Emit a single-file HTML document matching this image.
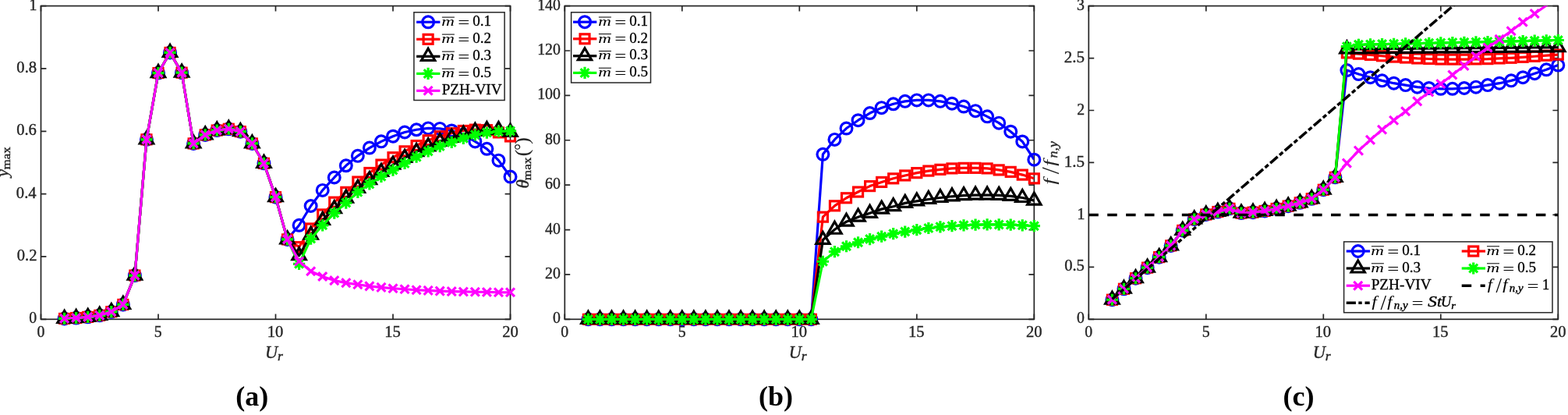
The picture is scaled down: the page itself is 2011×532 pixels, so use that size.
<!DOCTYPE html>
<html lang="en">
<head>
<meta charset="utf-8">
<title>Figure: y max, theta max and frequency ratio versus U r</title>
<style>
html,body{margin:0;padding:0;background:#fff;}
body{width:2011px;height:532px;overflow:hidden;font-family:"Liberation Serif",serif;}
svg{display:block;}
</style>
</head>
<body>
<svg width="2011" height="532" viewBox="0 0 2011 532">
<rect width="2011" height="532" fill="#fff"/>
<g id="panel0">
<clipPath id="clip0"><rect x="52.5" y="7.6" width="602.0" height="401.7"/></clipPath>
<rect x="52.5" y="7.6" width="602.0" height="401.7" fill="#fff" stroke="#262626" stroke-width="1.7"/>
<path d="M52.50 409.3v-6.9M52.50 7.6v6.9M203.00 409.3v-6.9M203.00 7.6v6.9M353.50 409.3v-6.9M353.50 7.6v6.9M504.00 409.3v-6.9M504.00 7.6v6.9M654.50 409.3v-6.9M654.50 7.6v6.9M52.5 409.30h6.9M654.5 409.30h-6.9M52.5 328.96h6.9M654.5 328.96h-6.9M52.5 248.62h6.9M654.5 248.62h-6.9M52.5 168.28h6.9M654.5 168.28h-6.9M52.5 87.94h6.9M654.5 87.94h-6.9M52.5 7.60h6.9M654.5 7.60h-6.9" fill="none" stroke="#262626" stroke-width="1.7"/>
<g font-family='"Liberation Serif", serif'>
<text transform="translate(47.56 432.40) scale(0.96 1)" font-size="20.6" fill="#262626" stroke="#262626" stroke-width="0.4">0</text>
<text transform="translate(197.87 432.40) scale(0.96 1)" font-size="20.6" fill="#262626" stroke="#262626" stroke-width="0.4">5</text>
<text x="342.69" y="432.40" font-size="20.6" fill="#262626" stroke="#262626" stroke-width="0.4">10</text>
<text x="493.20" y="432.40" font-size="20.6" fill="#262626" stroke="#262626" stroke-width="0.4">15</text>
<text x="644.14" y="432.40" font-size="20.6" fill="#262626" stroke="#262626" stroke-width="0.4">20</text>
<text transform="translate(37.17 414.40) scale(0.96 1)" font-size="20.6" fill="#262626" stroke="#262626" stroke-width="0.4">0</text>
<text x="21.69" y="334.06" font-size="20.6" fill="#262626" stroke="#262626" stroke-width="0.4">0.2</text>
<text x="20.87" y="253.72" font-size="20.6" fill="#262626" stroke="#262626" stroke-width="0.4">0.4</text>
<text x="21.16" y="173.38" font-size="20.6" fill="#262626" stroke="#262626" stroke-width="0.4">0.6</text>
<text x="21.33" y="93.04" font-size="20.6" fill="#262626" stroke="#262626" stroke-width="0.4">0.8</text>
<text transform="translate(37.60 12.70) scale(0.96 1)" font-size="20.6" fill="#262626" stroke="#262626" stroke-width="0.4">1</text>
<text transform="translate(340.05 459.00) scale(0.93 1)" font-size="24.0" fill="#262626" font-style="italic" stroke="#262626" stroke-width="0.4">U</text>
<text transform="translate(355.89 462.40) scale(1.05 1)" font-size="16.8" fill="#262626" font-style="italic" stroke="#262626" stroke-width="0.4">r</text>
</g>
<polyline points="82.60,408.42 97.65,407.53 112.70,406.37 127.75,404.32 142.80,399.66 157.85,390.42 172.90,353.06 187.95,178.84 203.00,93.56 218.05,67.45 233.10,93.16 248.15,183.95 263.20,172.90 278.25,167.07 293.30,165.27 308.35,168.68 323.40,183.95 338.45,209.33 353.50,252.64 368.55,306.91 383.60,288.79 398.65,264.01 413.70,243.88 428.75,227.49 443.80,212.27 458.85,199.85 473.90,189.57 488.95,181.34 504.00,174.71 519.05,169.49 534.10,166.27 549.15,164.42 564.20,164.91 579.25,167.48 594.30,172.50 609.35,181.38 624.40,190.78 639.45,205.64 654.50,226.53" fill="none" stroke="#0000ff" stroke-width="3.2" stroke-linejoin="round" clip-path="url(#clip0)"/>
<circle cx="82.60" cy="408.42" r="7.4" fill="none" stroke="#0000ff" stroke-width="3.2"/>
<circle cx="97.65" cy="407.53" r="7.4" fill="none" stroke="#0000ff" stroke-width="3.2"/>
<circle cx="112.70" cy="406.37" r="7.4" fill="none" stroke="#0000ff" stroke-width="3.2"/>
<circle cx="127.75" cy="404.32" r="7.4" fill="none" stroke="#0000ff" stroke-width="3.2"/>
<circle cx="142.80" cy="399.66" r="7.4" fill="none" stroke="#0000ff" stroke-width="3.2"/>
<circle cx="157.85" cy="390.42" r="7.4" fill="none" stroke="#0000ff" stroke-width="3.2"/>
<circle cx="172.90" cy="353.06" r="7.4" fill="none" stroke="#0000ff" stroke-width="3.2"/>
<circle cx="187.95" cy="178.84" r="7.4" fill="none" stroke="#0000ff" stroke-width="3.2"/>
<circle cx="203.00" cy="93.56" r="7.4" fill="none" stroke="#0000ff" stroke-width="3.2"/>
<circle cx="218.05" cy="67.45" r="7.4" fill="none" stroke="#0000ff" stroke-width="3.2"/>
<circle cx="233.10" cy="93.16" r="7.4" fill="none" stroke="#0000ff" stroke-width="3.2"/>
<circle cx="248.15" cy="183.95" r="7.4" fill="none" stroke="#0000ff" stroke-width="3.2"/>
<circle cx="263.20" cy="172.90" r="7.4" fill="none" stroke="#0000ff" stroke-width="3.2"/>
<circle cx="278.25" cy="167.07" r="7.4" fill="none" stroke="#0000ff" stroke-width="3.2"/>
<circle cx="293.30" cy="165.27" r="7.4" fill="none" stroke="#0000ff" stroke-width="3.2"/>
<circle cx="308.35" cy="168.68" r="7.4" fill="none" stroke="#0000ff" stroke-width="3.2"/>
<circle cx="323.40" cy="183.95" r="7.4" fill="none" stroke="#0000ff" stroke-width="3.2"/>
<circle cx="338.45" cy="209.33" r="7.4" fill="none" stroke="#0000ff" stroke-width="3.2"/>
<circle cx="353.50" cy="252.64" r="7.4" fill="none" stroke="#0000ff" stroke-width="3.2"/>
<circle cx="368.55" cy="306.91" r="7.4" fill="none" stroke="#0000ff" stroke-width="3.2"/>
<circle cx="383.60" cy="288.79" r="7.4" fill="none" stroke="#0000ff" stroke-width="3.2"/>
<circle cx="398.65" cy="264.01" r="7.4" fill="none" stroke="#0000ff" stroke-width="3.2"/>
<circle cx="413.70" cy="243.88" r="7.4" fill="none" stroke="#0000ff" stroke-width="3.2"/>
<circle cx="428.75" cy="227.49" r="7.4" fill="none" stroke="#0000ff" stroke-width="3.2"/>
<circle cx="443.80" cy="212.27" r="7.4" fill="none" stroke="#0000ff" stroke-width="3.2"/>
<circle cx="458.85" cy="199.85" r="7.4" fill="none" stroke="#0000ff" stroke-width="3.2"/>
<circle cx="473.90" cy="189.57" r="7.4" fill="none" stroke="#0000ff" stroke-width="3.2"/>
<circle cx="488.95" cy="181.34" r="7.4" fill="none" stroke="#0000ff" stroke-width="3.2"/>
<circle cx="504.00" cy="174.71" r="7.4" fill="none" stroke="#0000ff" stroke-width="3.2"/>
<circle cx="519.05" cy="169.49" r="7.4" fill="none" stroke="#0000ff" stroke-width="3.2"/>
<circle cx="534.10" cy="166.27" r="7.4" fill="none" stroke="#0000ff" stroke-width="3.2"/>
<circle cx="549.15" cy="164.42" r="7.4" fill="none" stroke="#0000ff" stroke-width="3.2"/>
<circle cx="564.20" cy="164.91" r="7.4" fill="none" stroke="#0000ff" stroke-width="3.2"/>
<circle cx="579.25" cy="167.48" r="7.4" fill="none" stroke="#0000ff" stroke-width="3.2"/>
<circle cx="594.30" cy="172.50" r="7.4" fill="none" stroke="#0000ff" stroke-width="3.2"/>
<circle cx="609.35" cy="181.38" r="7.4" fill="none" stroke="#0000ff" stroke-width="3.2"/>
<circle cx="624.40" cy="190.78" r="7.4" fill="none" stroke="#0000ff" stroke-width="3.2"/>
<circle cx="639.45" cy="205.64" r="7.4" fill="none" stroke="#0000ff" stroke-width="3.2"/>
<circle cx="654.50" cy="226.53" r="7.4" fill="none" stroke="#0000ff" stroke-width="3.2"/>
<polyline points="82.60,408.42 97.65,407.53 112.70,406.37 127.75,404.32 142.80,399.66 157.85,390.42 172.90,353.06 187.95,178.84 203.00,93.56 218.05,67.45 233.10,93.16 248.15,183.95 263.20,172.90 278.25,167.07 293.30,165.27 308.35,168.68 323.40,183.95 338.45,209.33 353.50,252.64 368.55,306.91 383.60,316.63 398.65,292.97 413.70,274.93 428.75,259.14 443.80,246.33 458.85,233.03 473.90,221.51 488.95,211.10 504.00,201.74 519.05,193.87 534.10,186.56 549.15,179.77 564.20,174.71 579.25,170.69 594.30,167.48 609.35,166.15 624.40,166.67 639.45,169.89 654.50,174.95" fill="none" stroke="#ff0000" stroke-width="3.2" stroke-linejoin="round" clip-path="url(#clip0)"/>
<rect x="76.60" y="402.42" width="12.0" height="12.0" fill="none" stroke="#ff0000" stroke-width="3.2"/>
<rect x="91.65" y="401.53" width="12.0" height="12.0" fill="none" stroke="#ff0000" stroke-width="3.2"/>
<rect x="106.70" y="400.37" width="12.0" height="12.0" fill="none" stroke="#ff0000" stroke-width="3.2"/>
<rect x="121.75" y="398.32" width="12.0" height="12.0" fill="none" stroke="#ff0000" stroke-width="3.2"/>
<rect x="136.80" y="393.66" width="12.0" height="12.0" fill="none" stroke="#ff0000" stroke-width="3.2"/>
<rect x="151.85" y="384.42" width="12.0" height="12.0" fill="none" stroke="#ff0000" stroke-width="3.2"/>
<rect x="166.90" y="347.06" width="12.0" height="12.0" fill="none" stroke="#ff0000" stroke-width="3.2"/>
<rect x="181.95" y="172.84" width="12.0" height="12.0" fill="none" stroke="#ff0000" stroke-width="3.2"/>
<rect x="197.00" y="87.56" width="12.0" height="12.0" fill="none" stroke="#ff0000" stroke-width="3.2"/>
<rect x="212.05" y="61.45" width="12.0" height="12.0" fill="none" stroke="#ff0000" stroke-width="3.2"/>
<rect x="227.10" y="87.16" width="12.0" height="12.0" fill="none" stroke="#ff0000" stroke-width="3.2"/>
<rect x="242.15" y="177.95" width="12.0" height="12.0" fill="none" stroke="#ff0000" stroke-width="3.2"/>
<rect x="257.20" y="166.90" width="12.0" height="12.0" fill="none" stroke="#ff0000" stroke-width="3.2"/>
<rect x="272.25" y="161.07" width="12.0" height="12.0" fill="none" stroke="#ff0000" stroke-width="3.2"/>
<rect x="287.30" y="159.27" width="12.0" height="12.0" fill="none" stroke="#ff0000" stroke-width="3.2"/>
<rect x="302.35" y="162.68" width="12.0" height="12.0" fill="none" stroke="#ff0000" stroke-width="3.2"/>
<rect x="317.40" y="177.95" width="12.0" height="12.0" fill="none" stroke="#ff0000" stroke-width="3.2"/>
<rect x="332.45" y="203.33" width="12.0" height="12.0" fill="none" stroke="#ff0000" stroke-width="3.2"/>
<rect x="347.50" y="246.64" width="12.0" height="12.0" fill="none" stroke="#ff0000" stroke-width="3.2"/>
<rect x="362.55" y="300.91" width="12.0" height="12.0" fill="none" stroke="#ff0000" stroke-width="3.2"/>
<rect x="377.60" y="310.63" width="12.0" height="12.0" fill="none" stroke="#ff0000" stroke-width="3.2"/>
<rect x="392.65" y="286.97" width="12.0" height="12.0" fill="none" stroke="#ff0000" stroke-width="3.2"/>
<rect x="407.70" y="268.93" width="12.0" height="12.0" fill="none" stroke="#ff0000" stroke-width="3.2"/>
<rect x="422.75" y="253.14" width="12.0" height="12.0" fill="none" stroke="#ff0000" stroke-width="3.2"/>
<rect x="437.80" y="240.33" width="12.0" height="12.0" fill="none" stroke="#ff0000" stroke-width="3.2"/>
<rect x="452.85" y="227.03" width="12.0" height="12.0" fill="none" stroke="#ff0000" stroke-width="3.2"/>
<rect x="467.90" y="215.51" width="12.0" height="12.0" fill="none" stroke="#ff0000" stroke-width="3.2"/>
<rect x="482.95" y="205.10" width="12.0" height="12.0" fill="none" stroke="#ff0000" stroke-width="3.2"/>
<rect x="498.00" y="195.74" width="12.0" height="12.0" fill="none" stroke="#ff0000" stroke-width="3.2"/>
<rect x="513.05" y="187.87" width="12.0" height="12.0" fill="none" stroke="#ff0000" stroke-width="3.2"/>
<rect x="528.10" y="180.56" width="12.0" height="12.0" fill="none" stroke="#ff0000" stroke-width="3.2"/>
<rect x="543.15" y="173.77" width="12.0" height="12.0" fill="none" stroke="#ff0000" stroke-width="3.2"/>
<rect x="558.20" y="168.71" width="12.0" height="12.0" fill="none" stroke="#ff0000" stroke-width="3.2"/>
<rect x="573.25" y="164.69" width="12.0" height="12.0" fill="none" stroke="#ff0000" stroke-width="3.2"/>
<rect x="588.30" y="161.48" width="12.0" height="12.0" fill="none" stroke="#ff0000" stroke-width="3.2"/>
<rect x="603.35" y="160.15" width="12.0" height="12.0" fill="none" stroke="#ff0000" stroke-width="3.2"/>
<rect x="618.40" y="160.67" width="12.0" height="12.0" fill="none" stroke="#ff0000" stroke-width="3.2"/>
<rect x="633.45" y="163.89" width="12.0" height="12.0" fill="none" stroke="#ff0000" stroke-width="3.2"/>
<rect x="648.50" y="168.95" width="12.0" height="12.0" fill="none" stroke="#ff0000" stroke-width="3.2"/>
<polyline points="82.60,408.42 97.65,407.53 112.70,406.37 127.75,404.32 142.80,399.66 157.85,390.42 172.90,353.06 187.95,178.84 203.00,93.56 218.05,67.45 233.10,93.16 248.15,183.95 263.20,172.90 278.25,167.07 293.30,165.27 308.35,168.68 323.40,183.95 338.45,209.33 353.50,252.64 368.55,306.91 383.60,327.75 398.65,301.24 413.70,282.36 428.75,267.70 443.80,254.04 458.85,241.39 473.90,230.66 488.95,220.50 504.00,211.26 519.05,202.42 534.10,194.55 549.15,187.80 564.20,181.34 579.25,176.31 594.30,172.10 609.35,168.28 624.40,166.51 639.45,166.51 654.50,169.32" fill="none" stroke="#000000" stroke-width="3.2" stroke-linejoin="round" clip-path="url(#clip0)"/>
<path d="M82.60 398.42L91.26 413.42L73.94 413.42Z" fill="none" stroke="#000000" stroke-width="3.2" stroke-linejoin="miter"/>
<path d="M97.65 397.53L106.31 412.53L88.99 412.53Z" fill="none" stroke="#000000" stroke-width="3.2" stroke-linejoin="miter"/>
<path d="M112.70 396.37L121.36 411.37L104.04 411.37Z" fill="none" stroke="#000000" stroke-width="3.2" stroke-linejoin="miter"/>
<path d="M127.75 394.32L136.41 409.32L119.09 409.32Z" fill="none" stroke="#000000" stroke-width="3.2" stroke-linejoin="miter"/>
<path d="M142.80 389.66L151.46 404.66L134.14 404.66Z" fill="none" stroke="#000000" stroke-width="3.2" stroke-linejoin="miter"/>
<path d="M157.85 380.42L166.51 395.42L149.19 395.42Z" fill="none" stroke="#000000" stroke-width="3.2" stroke-linejoin="miter"/>
<path d="M172.90 343.06L181.56 358.06L164.24 358.06Z" fill="none" stroke="#000000" stroke-width="3.2" stroke-linejoin="miter"/>
<path d="M187.95 168.84L196.61 183.84L179.29 183.84Z" fill="none" stroke="#000000" stroke-width="3.2" stroke-linejoin="miter"/>
<path d="M203.00 83.56L211.66 98.56L194.34 98.56Z" fill="none" stroke="#000000" stroke-width="3.2" stroke-linejoin="miter"/>
<path d="M218.05 57.45L226.71 72.45L209.39 72.45Z" fill="none" stroke="#000000" stroke-width="3.2" stroke-linejoin="miter"/>
<path d="M233.10 83.16L241.76 98.16L224.44 98.16Z" fill="none" stroke="#000000" stroke-width="3.2" stroke-linejoin="miter"/>
<path d="M248.15 173.95L256.81 188.95L239.49 188.95Z" fill="none" stroke="#000000" stroke-width="3.2" stroke-linejoin="miter"/>
<path d="M263.20 162.90L271.86 177.90L254.54 177.90Z" fill="none" stroke="#000000" stroke-width="3.2" stroke-linejoin="miter"/>
<path d="M278.25 157.07L286.91 172.07L269.59 172.07Z" fill="none" stroke="#000000" stroke-width="3.2" stroke-linejoin="miter"/>
<path d="M293.30 155.27L301.96 170.27L284.64 170.27Z" fill="none" stroke="#000000" stroke-width="3.2" stroke-linejoin="miter"/>
<path d="M308.35 158.68L317.01 173.68L299.69 173.68Z" fill="none" stroke="#000000" stroke-width="3.2" stroke-linejoin="miter"/>
<path d="M323.40 173.95L332.06 188.95L314.74 188.95Z" fill="none" stroke="#000000" stroke-width="3.2" stroke-linejoin="miter"/>
<path d="M338.45 199.33L347.11 214.33L329.79 214.33Z" fill="none" stroke="#000000" stroke-width="3.2" stroke-linejoin="miter"/>
<path d="M353.50 242.64L362.16 257.64L344.84 257.64Z" fill="none" stroke="#000000" stroke-width="3.2" stroke-linejoin="miter"/>
<path d="M368.55 296.91L377.21 311.91L359.89 311.91Z" fill="none" stroke="#000000" stroke-width="3.2" stroke-linejoin="miter"/>
<path d="M383.60 317.75L392.26 332.75L374.94 332.75Z" fill="none" stroke="#000000" stroke-width="3.2" stroke-linejoin="miter"/>
<path d="M398.65 291.24L407.31 306.24L389.99 306.24Z" fill="none" stroke="#000000" stroke-width="3.2" stroke-linejoin="miter"/>
<path d="M413.70 272.36L422.36 287.36L405.04 287.36Z" fill="none" stroke="#000000" stroke-width="3.2" stroke-linejoin="miter"/>
<path d="M428.75 257.70L437.41 272.70L420.09 272.70Z" fill="none" stroke="#000000" stroke-width="3.2" stroke-linejoin="miter"/>
<path d="M443.80 244.04L452.46 259.04L435.14 259.04Z" fill="none" stroke="#000000" stroke-width="3.2" stroke-linejoin="miter"/>
<path d="M458.85 231.39L467.51 246.39L450.19 246.39Z" fill="none" stroke="#000000" stroke-width="3.2" stroke-linejoin="miter"/>
<path d="M473.90 220.66L482.56 235.66L465.24 235.66Z" fill="none" stroke="#000000" stroke-width="3.2" stroke-linejoin="miter"/>
<path d="M488.95 210.50L497.61 225.50L480.29 225.50Z" fill="none" stroke="#000000" stroke-width="3.2" stroke-linejoin="miter"/>
<path d="M504.00 201.26L512.66 216.26L495.34 216.26Z" fill="none" stroke="#000000" stroke-width="3.2" stroke-linejoin="miter"/>
<path d="M519.05 192.42L527.71 207.42L510.39 207.42Z" fill="none" stroke="#000000" stroke-width="3.2" stroke-linejoin="miter"/>
<path d="M534.10 184.55L542.76 199.55L525.44 199.55Z" fill="none" stroke="#000000" stroke-width="3.2" stroke-linejoin="miter"/>
<path d="M549.15 177.80L557.81 192.80L540.49 192.80Z" fill="none" stroke="#000000" stroke-width="3.2" stroke-linejoin="miter"/>
<path d="M564.20 171.34L572.86 186.34L555.54 186.34Z" fill="none" stroke="#000000" stroke-width="3.2" stroke-linejoin="miter"/>
<path d="M579.25 166.31L587.91 181.31L570.59 181.31Z" fill="none" stroke="#000000" stroke-width="3.2" stroke-linejoin="miter"/>
<path d="M594.30 162.10L602.96 177.10L585.64 177.10Z" fill="none" stroke="#000000" stroke-width="3.2" stroke-linejoin="miter"/>
<path d="M609.35 158.28L618.01 173.28L600.69 173.28Z" fill="none" stroke="#000000" stroke-width="3.2" stroke-linejoin="miter"/>
<path d="M624.40 156.51L633.06 171.51L615.74 171.51Z" fill="none" stroke="#000000" stroke-width="3.2" stroke-linejoin="miter"/>
<path d="M639.45 156.51L648.11 171.51L630.79 171.51Z" fill="none" stroke="#000000" stroke-width="3.2" stroke-linejoin="miter"/>
<path d="M654.50 159.32L663.16 174.32L645.84 174.32Z" fill="none" stroke="#000000" stroke-width="3.2" stroke-linejoin="miter"/>
<polyline points="82.60,408.42 97.65,407.53 112.70,406.37 127.75,404.32 142.80,399.66 157.85,390.42 172.90,353.06 187.95,178.84 203.00,93.56 218.05,67.45 233.10,93.16 248.15,183.95 263.20,172.90 278.25,167.07 293.30,165.27 308.35,168.68 323.40,183.95 338.45,209.33 353.50,252.64 368.55,306.91 383.60,338.36 398.65,306.06 413.70,288.79 428.75,273.12 443.80,260.07 458.85,246.29 473.90,235.97 488.95,226.37 504.00,218.09 519.05,209.45 534.10,201.22 549.15,193.99 564.20,187.56 579.25,182.42 594.30,177.32 609.35,172.86 624.40,170.09 639.45,168.40 654.50,167.88" fill="none" stroke="#00ff00" stroke-width="3.2" stroke-linejoin="round" clip-path="url(#clip0)"/>
<path d="M75.00 408.42H90.20M82.60 400.82V416.02M77.23 403.04L87.97 413.79M77.23 413.79L87.97 403.04" fill="none" stroke="#00ff00" stroke-width="3.2"/>
<path d="M90.05 407.53H105.25M97.65 399.93V415.13M92.28 402.16L103.02 412.91M92.28 412.91L103.02 402.16" fill="none" stroke="#00ff00" stroke-width="3.2"/>
<path d="M105.10 406.37H120.30M112.70 398.77V413.97M107.33 400.99L118.07 411.74M107.33 411.74L118.07 400.99" fill="none" stroke="#00ff00" stroke-width="3.2"/>
<path d="M120.15 404.32H135.35M127.75 396.72V411.92M122.38 398.94L133.12 409.69M122.38 409.69L133.12 398.94" fill="none" stroke="#00ff00" stroke-width="3.2"/>
<path d="M135.20 399.66H150.40M142.80 392.06V407.26M137.43 394.29L148.17 405.03M137.43 405.03L148.17 394.29" fill="none" stroke="#00ff00" stroke-width="3.2"/>
<path d="M150.25 390.42H165.45M157.85 382.82V398.02M152.48 385.05L163.22 395.79M152.48 395.79L163.22 385.05" fill="none" stroke="#00ff00" stroke-width="3.2"/>
<path d="M165.30 353.06H180.50M172.90 345.46V360.66M167.53 347.69L178.27 358.44M167.53 358.44L178.27 347.69" fill="none" stroke="#00ff00" stroke-width="3.2"/>
<path d="M180.35 178.84H195.55M187.95 171.24V186.44M182.58 173.47L193.32 184.22M182.58 184.22L193.32 173.47" fill="none" stroke="#00ff00" stroke-width="3.2"/>
<path d="M195.40 93.56H210.60M203.00 85.96V101.16M197.63 88.19L208.37 98.94M197.63 98.94L208.37 88.19" fill="none" stroke="#00ff00" stroke-width="3.2"/>
<path d="M210.45 67.45H225.65M218.05 59.85V75.05M212.68 62.08L223.42 72.83M212.68 72.83L223.42 62.08" fill="none" stroke="#00ff00" stroke-width="3.2"/>
<path d="M225.50 93.16H240.70M233.10 85.56V100.76M227.73 87.79L238.47 98.54M227.73 98.54L238.47 87.79" fill="none" stroke="#00ff00" stroke-width="3.2"/>
<path d="M240.55 183.95H255.75M248.15 176.35V191.55M242.78 178.57L253.52 189.32M242.78 189.32L253.52 178.57" fill="none" stroke="#00ff00" stroke-width="3.2"/>
<path d="M255.60 172.90H270.80M263.20 165.30V180.50M257.83 167.53L268.57 178.27M257.83 178.27L268.57 167.53" fill="none" stroke="#00ff00" stroke-width="3.2"/>
<path d="M270.65 167.07H285.85M278.25 159.47V174.67M272.88 161.70L283.62 172.45M272.88 172.45L283.62 161.70" fill="none" stroke="#00ff00" stroke-width="3.2"/>
<path d="M285.70 165.27H300.90M293.30 157.67V172.87M287.93 159.89L298.67 170.64M287.93 170.64L298.67 159.89" fill="none" stroke="#00ff00" stroke-width="3.2"/>
<path d="M300.75 168.68H315.95M308.35 161.08V176.28M302.98 163.31L313.72 174.06M302.98 174.06L313.72 163.31" fill="none" stroke="#00ff00" stroke-width="3.2"/>
<path d="M315.80 183.95H331.00M323.40 176.35V191.55M318.03 178.57L328.77 189.32M318.03 189.32L328.77 178.57" fill="none" stroke="#00ff00" stroke-width="3.2"/>
<path d="M330.85 209.33H346.05M338.45 201.73V216.93M333.08 203.96L343.82 214.71M333.08 214.71L343.82 203.96" fill="none" stroke="#00ff00" stroke-width="3.2"/>
<path d="M345.90 252.64H361.10M353.50 245.04V260.24M348.13 247.26L358.87 258.01M348.13 258.01L358.87 247.26" fill="none" stroke="#00ff00" stroke-width="3.2"/>
<path d="M360.95 306.91H376.15M368.55 299.31V314.51M363.18 301.53L373.92 312.28M363.18 312.28L373.92 301.53" fill="none" stroke="#00ff00" stroke-width="3.2"/>
<path d="M376.00 338.36H391.20M383.60 330.76V345.96M378.23 332.99L388.97 343.73M378.23 343.73L388.97 332.99" fill="none" stroke="#00ff00" stroke-width="3.2"/>
<path d="M391.05 306.06H406.25M398.65 298.46V313.66M393.28 300.69L404.02 311.44M393.28 311.44L404.02 300.69" fill="none" stroke="#00ff00" stroke-width="3.2"/>
<path d="M406.10 288.79H421.30M413.70 281.19V296.39M408.33 283.42L419.07 294.16M408.33 294.16L419.07 283.42" fill="none" stroke="#00ff00" stroke-width="3.2"/>
<path d="M421.15 273.12H436.35M428.75 265.52V280.72M423.38 267.75L434.12 278.50M423.38 278.50L434.12 267.75" fill="none" stroke="#00ff00" stroke-width="3.2"/>
<path d="M436.20 260.07H451.40M443.80 252.47V267.67M438.43 254.69L449.17 265.44M438.43 265.44L449.17 254.69" fill="none" stroke="#00ff00" stroke-width="3.2"/>
<path d="M451.25 246.29H466.45M458.85 238.69V253.89M453.48 240.92L464.22 251.66M453.48 251.66L464.22 240.92" fill="none" stroke="#00ff00" stroke-width="3.2"/>
<path d="M466.30 235.97H481.50M473.90 228.37V243.57M468.53 230.59L479.27 241.34M468.53 241.34L479.27 230.59" fill="none" stroke="#00ff00" stroke-width="3.2"/>
<path d="M481.35 226.37H496.55M488.95 218.77V233.97M483.58 220.99L494.32 231.74M483.58 231.74L494.32 220.99" fill="none" stroke="#00ff00" stroke-width="3.2"/>
<path d="M496.40 218.09H511.60M504.00 210.49V225.69M498.63 212.72L509.37 223.46M498.63 223.46L509.37 212.72" fill="none" stroke="#00ff00" stroke-width="3.2"/>
<path d="M511.45 209.45H526.65M519.05 201.85V217.05M513.68 204.08L524.42 214.83M513.68 214.83L524.42 204.08" fill="none" stroke="#00ff00" stroke-width="3.2"/>
<path d="M526.50 201.22H541.70M534.10 193.62V208.82M528.73 195.85L539.47 206.59M528.73 206.59L539.47 195.85" fill="none" stroke="#00ff00" stroke-width="3.2"/>
<path d="M541.55 193.99H556.75M549.15 186.39V201.59M543.78 188.61L554.52 199.36M543.78 199.36L554.52 188.61" fill="none" stroke="#00ff00" stroke-width="3.2"/>
<path d="M556.60 187.56H571.80M564.20 179.96V195.16M558.83 182.19L569.57 192.94M558.83 192.94L569.57 182.19" fill="none" stroke="#00ff00" stroke-width="3.2"/>
<path d="M571.65 182.42H586.85M579.25 174.82V190.02M573.88 177.05L584.62 187.79M573.88 187.79L584.62 177.05" fill="none" stroke="#00ff00" stroke-width="3.2"/>
<path d="M586.70 177.32H601.90M594.30 169.72V184.92M588.93 171.94L599.67 182.69M588.93 182.69L599.67 171.94" fill="none" stroke="#00ff00" stroke-width="3.2"/>
<path d="M601.75 172.86H616.95M609.35 165.26V180.46M603.98 167.49L614.72 178.23M603.98 178.23L614.72 167.49" fill="none" stroke="#00ff00" stroke-width="3.2"/>
<path d="M616.80 170.09H632.00M624.40 162.49V177.69M619.03 164.71L629.77 175.46M619.03 175.46L629.77 164.71" fill="none" stroke="#00ff00" stroke-width="3.2"/>
<path d="M631.85 168.40H647.05M639.45 160.80V176.00M634.08 163.03L644.82 173.77M634.08 173.77L644.82 163.03" fill="none" stroke="#00ff00" stroke-width="3.2"/>
<path d="M646.90 167.88H662.10M654.50 160.28V175.48M649.13 162.50L659.87 173.25M649.13 173.25L659.87 162.50" fill="none" stroke="#00ff00" stroke-width="3.2"/>
<polyline points="82.60,408.42 97.65,407.53 112.70,406.37 127.75,404.32 142.80,399.66 157.85,390.42 172.90,353.06 187.95,178.84 203.00,93.56 218.05,67.45 233.10,93.16 248.15,183.95 263.20,172.90 278.25,167.07 293.30,165.27 308.35,168.68 323.40,183.95 338.45,209.33 353.50,252.64 368.55,306.91 383.60,334.99 398.65,347.72 413.70,354.47 428.75,359.57 443.80,362.62 458.85,364.71 473.90,366.84 488.95,368.33 504.00,369.73 519.05,370.74 534.10,371.74 549.15,372.42 564.20,373.15 579.25,373.63 594.30,373.95 609.35,374.27 624.40,374.47 639.45,374.75 654.50,374.79" fill="none" stroke="#ff00ff" stroke-width="3.2" stroke-linejoin="round" clip-path="url(#clip0)"/>
<path d="M77.16 402.97L88.04 413.86M77.16 413.86L88.04 402.97" fill="none" stroke="#ff00ff" stroke-width="3.2"/>
<path d="M92.21 402.09L103.09 412.98M92.21 412.98L103.09 402.09" fill="none" stroke="#ff00ff" stroke-width="3.2"/>
<path d="M107.26 400.92L118.14 411.81M107.26 411.81L118.14 400.92" fill="none" stroke="#ff00ff" stroke-width="3.2"/>
<path d="M122.31 398.87L133.19 409.76M122.31 409.76L133.19 398.87" fill="none" stroke="#ff00ff" stroke-width="3.2"/>
<path d="M137.36 394.21L148.24 405.10M137.36 405.10L148.24 394.21" fill="none" stroke="#ff00ff" stroke-width="3.2"/>
<path d="M152.41 384.98L163.29 395.86M152.41 395.86L163.29 384.98" fill="none" stroke="#ff00ff" stroke-width="3.2"/>
<path d="M167.46 347.62L178.34 358.51M167.46 358.51L178.34 347.62" fill="none" stroke="#ff00ff" stroke-width="3.2"/>
<path d="M182.51 173.40L193.39 184.29M182.51 184.29L193.39 173.40" fill="none" stroke="#ff00ff" stroke-width="3.2"/>
<path d="M197.56 88.12L208.44 99.01M197.56 99.01L208.44 88.12" fill="none" stroke="#ff00ff" stroke-width="3.2"/>
<path d="M212.61 62.01L223.49 72.90M212.61 72.90L223.49 62.01" fill="none" stroke="#ff00ff" stroke-width="3.2"/>
<path d="M227.66 87.72L238.54 98.61M227.66 98.61L238.54 87.72" fill="none" stroke="#ff00ff" stroke-width="3.2"/>
<path d="M242.71 178.50L253.59 189.39M242.71 189.39L253.59 178.50" fill="none" stroke="#ff00ff" stroke-width="3.2"/>
<path d="M257.76 167.45L268.64 178.34M257.76 178.34L268.64 167.45" fill="none" stroke="#ff00ff" stroke-width="3.2"/>
<path d="M272.81 161.63L283.69 172.52M272.81 172.52L283.69 161.63" fill="none" stroke="#ff00ff" stroke-width="3.2"/>
<path d="M287.86 159.82L298.74 170.71M287.86 170.71L298.74 159.82" fill="none" stroke="#ff00ff" stroke-width="3.2"/>
<path d="M302.91 163.24L313.79 174.13M302.91 174.13L313.79 163.24" fill="none" stroke="#ff00ff" stroke-width="3.2"/>
<path d="M317.96 178.50L328.84 189.39M317.96 189.39L328.84 178.50" fill="none" stroke="#ff00ff" stroke-width="3.2"/>
<path d="M333.01 203.89L343.89 214.78M333.01 214.78L343.89 203.89" fill="none" stroke="#ff00ff" stroke-width="3.2"/>
<path d="M348.06 247.19L358.94 258.08M348.06 258.08L358.94 247.19" fill="none" stroke="#ff00ff" stroke-width="3.2"/>
<path d="M363.11 301.46L373.99 312.35M363.11 312.35L373.99 301.46" fill="none" stroke="#ff00ff" stroke-width="3.2"/>
<path d="M378.16 329.54L389.04 340.43M378.16 340.43L389.04 329.54" fill="none" stroke="#ff00ff" stroke-width="3.2"/>
<path d="M393.21 342.27L404.09 353.16M393.21 353.16L404.09 342.27" fill="none" stroke="#ff00ff" stroke-width="3.2"/>
<path d="M408.26 349.02L419.14 359.91M408.26 359.91L419.14 349.02" fill="none" stroke="#ff00ff" stroke-width="3.2"/>
<path d="M423.31 354.12L434.19 365.01M423.31 365.01L434.19 354.12" fill="none" stroke="#ff00ff" stroke-width="3.2"/>
<path d="M438.36 357.18L449.24 368.07M438.36 368.07L449.24 357.18" fill="none" stroke="#ff00ff" stroke-width="3.2"/>
<path d="M453.41 359.27L464.29 370.16M453.41 370.16L464.29 359.27" fill="none" stroke="#ff00ff" stroke-width="3.2"/>
<path d="M468.46 361.40L479.34 372.29M468.46 372.29L479.34 361.40" fill="none" stroke="#ff00ff" stroke-width="3.2"/>
<path d="M483.51 362.88L494.39 373.77M483.51 373.77L494.39 362.88" fill="none" stroke="#ff00ff" stroke-width="3.2"/>
<path d="M498.56 364.29L509.44 375.18M498.56 375.18L509.44 364.29" fill="none" stroke="#ff00ff" stroke-width="3.2"/>
<path d="M513.61 365.29L524.49 376.18M513.61 376.18L524.49 365.29" fill="none" stroke="#ff00ff" stroke-width="3.2"/>
<path d="M528.66 366.30L539.54 377.19M528.66 377.19L539.54 366.30" fill="none" stroke="#ff00ff" stroke-width="3.2"/>
<path d="M543.71 366.98L554.59 377.87M543.71 377.87L554.59 366.98" fill="none" stroke="#ff00ff" stroke-width="3.2"/>
<path d="M558.76 367.70L569.64 378.59M558.76 378.59L569.64 367.70" fill="none" stroke="#ff00ff" stroke-width="3.2"/>
<path d="M573.81 368.18L584.69 379.07M573.81 379.07L584.69 368.18" fill="none" stroke="#ff00ff" stroke-width="3.2"/>
<path d="M588.86 368.51L599.74 379.40M588.86 379.40L599.74 368.51" fill="none" stroke="#ff00ff" stroke-width="3.2"/>
<path d="M603.91 368.83L614.79 379.72M603.91 379.72L614.79 368.83" fill="none" stroke="#ff00ff" stroke-width="3.2"/>
<path d="M618.96 369.03L629.84 379.92M618.96 379.92L629.84 369.03" fill="none" stroke="#ff00ff" stroke-width="3.2"/>
<path d="M634.01 369.31L644.89 380.20M634.01 380.20L644.89 369.31" fill="none" stroke="#ff00ff" stroke-width="3.2"/>
<path d="M649.06 369.35L659.94 380.24M649.06 380.24L659.94 369.35" fill="none" stroke="#ff00ff" stroke-width="3.2"/>
</g>
<rect x="530.9" y="15.8" width="116.2" height="112.7" fill="#fff" stroke="#262626" stroke-width="1.5"/>
<path d="M534.10 28.30h30.3" stroke="#0000ff" stroke-width="3.2" fill="none"/><circle cx="549.10" cy="28.30" r="7.4" fill="none" stroke="#0000ff" stroke-width="3.2"/>
<g font-family='"Liberation Serif", serif'><text transform="translate(566.37 33.00) scale(1.31 1)" font-size="17.6" fill="#000" font-style="italic">m</text><text transform="translate(587.27 34.90) scale(1.42 1)" font-size="18.8" fill="#000">=</text><text transform="translate(606.17 33.00) scale(1.06 1)" font-size="18.0" fill="#000" stroke="#000" stroke-width="0.3">0.1</text></g><path d="M566.90 22.10h16" stroke="#000" stroke-width="1" fill="none"/>
<path d="M534.10 50.30h30.3" stroke="#ff0000" stroke-width="3.2" fill="none"/><rect x="543.10" y="44.30" width="12.0" height="12.0" fill="none" stroke="#ff0000" stroke-width="3.2"/>
<g font-family='"Liberation Serif", serif'><text transform="translate(566.37 55.00) scale(1.31 1)" font-size="17.6" fill="#000" font-style="italic">m</text><text transform="translate(587.27 56.90) scale(1.42 1)" font-size="18.8" fill="#000">=</text><text transform="translate(606.17 55.00) scale(1.06 1)" font-size="18.0" fill="#000" stroke="#000" stroke-width="0.3">0.2</text></g><path d="M566.90 44.10h16" stroke="#000" stroke-width="1" fill="none"/>
<path d="M534.10 72.30h30.3" stroke="#000000" stroke-width="3.2" fill="none"/><path d="M549.10 62.30L557.76 77.30L540.44 77.30Z" fill="none" stroke="#000000" stroke-width="3.2" stroke-linejoin="miter"/>
<g font-family='"Liberation Serif", serif'><text transform="translate(566.37 77.00) scale(1.31 1)" font-size="17.6" fill="#000" font-style="italic">m</text><text transform="translate(587.27 78.90) scale(1.42 1)" font-size="18.8" fill="#000">=</text><text transform="translate(606.17 77.00) scale(1.06 1)" font-size="18.0" fill="#000" stroke="#000" stroke-width="0.3">0.3</text></g><path d="M566.90 66.10h16" stroke="#000" stroke-width="1" fill="none"/>
<path d="M534.10 94.40h30.3" stroke="#00ff00" stroke-width="3.2" fill="none"/><path d="M541.50 94.40H556.70M549.10 86.80V102.00M543.73 89.03L554.47 99.77M543.73 99.77L554.47 89.03" fill="none" stroke="#00ff00" stroke-width="3.2"/>
<g font-family='"Liberation Serif", serif'><text transform="translate(566.37 99.10) scale(1.31 1)" font-size="17.6" fill="#000" font-style="italic">m</text><text transform="translate(587.27 101.00) scale(1.42 1)" font-size="18.8" fill="#000">=</text><text transform="translate(606.17 99.10) scale(1.06 1)" font-size="18.0" fill="#000" stroke="#000" stroke-width="0.3">0.5</text></g><path d="M566.90 88.20h16" stroke="#000" stroke-width="1" fill="none"/>
<path d="M534.10 116.30h30.3" stroke="#ff00ff" stroke-width="3.2" fill="none"/><path d="M543.66 110.86L554.54 121.74M543.66 121.74L554.54 110.86" fill="none" stroke="#ff00ff" stroke-width="3.2"/>
<g font-family='"Liberation Serif", serif'><text transform="translate(566.64 121.00) scale(1.02 1)" font-size="18.9" fill="#000" stroke="#000" stroke-width="0.3">PZH-VIV</text></g>
<g id="panel1">
<clipPath id="clip1"><rect x="724.3" y="7.6" width="602.0" height="401.7"/></clipPath>
<rect x="724.3" y="7.6" width="602.0" height="401.7" fill="#fff" stroke="#262626" stroke-width="1.7"/>
<path d="M724.30 409.3v-6.9M724.30 7.6v6.9M874.80 409.3v-6.9M874.80 7.6v6.9M1025.30 409.3v-6.9M1025.30 7.6v6.9M1175.80 409.3v-6.9M1175.80 7.6v6.9M1326.30 409.3v-6.9M1326.30 7.6v6.9M724.3 409.30h6.9M1326.3 409.30h-6.9M724.3 351.91h6.9M1326.3 351.91h-6.9M724.3 294.53h6.9M1326.3 294.53h-6.9M724.3 237.14h6.9M1326.3 237.14h-6.9M724.3 179.76h6.9M1326.3 179.76h-6.9M724.3 122.37h6.9M1326.3 122.37h-6.9M724.3 64.99h6.9M1326.3 64.99h-6.9M724.3 7.60h6.9M1326.3 7.60h-6.9" fill="none" stroke="#262626" stroke-width="1.7"/>
<g font-family='"Liberation Serif", serif'>
<text transform="translate(719.36 432.40) scale(0.96 1)" font-size="20.6" fill="#262626" stroke="#262626" stroke-width="0.4">0</text>
<text transform="translate(869.67 432.40) scale(0.96 1)" font-size="20.6" fill="#262626" stroke="#262626" stroke-width="0.4">5</text>
<text x="1014.49" y="432.40" font-size="20.6" fill="#262626" stroke="#262626" stroke-width="0.4">10</text>
<text x="1165.00" y="432.40" font-size="20.6" fill="#262626" stroke="#262626" stroke-width="0.4">15</text>
<text x="1315.94" y="432.40" font-size="20.6" fill="#262626" stroke="#262626" stroke-width="0.4">20</text>
<text transform="translate(708.97 414.40) scale(0.96 1)" font-size="20.6" fill="#262626" stroke="#262626" stroke-width="0.4">0</text>
<text transform="translate(699.08 357.01) scale(0.96 1)" font-size="20.6" fill="#262626" stroke="#262626" stroke-width="0.4">20</text>
<text transform="translate(699.08 299.63) scale(0.96 1)" font-size="20.6" fill="#262626" stroke="#262626" stroke-width="0.4">40</text>
<text transform="translate(699.08 242.24) scale(0.96 1)" font-size="20.6" fill="#262626" stroke="#262626" stroke-width="0.4">60</text>
<text transform="translate(699.08 184.86) scale(0.96 1)" font-size="20.6" fill="#262626" stroke="#262626" stroke-width="0.4">80</text>
<text transform="translate(689.19 127.47) scale(0.96 1)" font-size="20.6" fill="#262626" stroke="#262626" stroke-width="0.4">100</text>
<text transform="translate(689.19 70.09) scale(0.96 1)" font-size="20.6" fill="#262626" stroke="#262626" stroke-width="0.4">120</text>
<text transform="translate(689.19 12.70) scale(0.96 1)" font-size="20.6" fill="#262626" stroke="#262626" stroke-width="0.4">140</text>
<text transform="translate(1011.85 459.00) scale(0.93 1)" font-size="24.0" fill="#262626" font-style="italic" stroke="#262626" stroke-width="0.4">U</text>
<text transform="translate(1027.69 462.40) scale(1.05 1)" font-size="16.8" fill="#262626" font-style="italic" stroke="#262626" stroke-width="0.4">r</text>
</g>
<polyline points="754.40,409.30 769.45,409.30 784.50,409.30 799.55,409.30 814.60,409.30 829.65,409.30 844.70,409.30 859.75,409.30 874.80,409.30 889.85,409.30 904.90,409.30 919.95,409.30 935.00,409.30 950.05,409.30 965.10,409.30 980.15,409.30 995.20,409.30 1010.25,409.30 1025.30,409.30 1040.35,409.30 1055.40,197.83 1070.45,178.90 1085.50,164.55 1100.55,154.22 1115.60,145.04 1130.65,138.15 1145.70,133.27 1160.75,129.83 1175.80,128.40 1190.85,128.40 1205.90,129.83 1220.95,132.70 1236.00,136.57 1251.05,142.17 1266.10,149.34 1281.15,157.66 1296.20,168.71 1311.25,181.48 1326.30,204.72" fill="none" stroke="#0000ff" stroke-width="3.2" stroke-linejoin="round" clip-path="url(#clip1)"/>
<circle cx="754.40" cy="409.30" r="7.4" fill="none" stroke="#0000ff" stroke-width="3.2"/>
<circle cx="769.45" cy="409.30" r="7.4" fill="none" stroke="#0000ff" stroke-width="3.2"/>
<circle cx="784.50" cy="409.30" r="7.4" fill="none" stroke="#0000ff" stroke-width="3.2"/>
<circle cx="799.55" cy="409.30" r="7.4" fill="none" stroke="#0000ff" stroke-width="3.2"/>
<circle cx="814.60" cy="409.30" r="7.4" fill="none" stroke="#0000ff" stroke-width="3.2"/>
<circle cx="829.65" cy="409.30" r="7.4" fill="none" stroke="#0000ff" stroke-width="3.2"/>
<circle cx="844.70" cy="409.30" r="7.4" fill="none" stroke="#0000ff" stroke-width="3.2"/>
<circle cx="859.75" cy="409.30" r="7.4" fill="none" stroke="#0000ff" stroke-width="3.2"/>
<circle cx="874.80" cy="409.30" r="7.4" fill="none" stroke="#0000ff" stroke-width="3.2"/>
<circle cx="889.85" cy="409.30" r="7.4" fill="none" stroke="#0000ff" stroke-width="3.2"/>
<circle cx="904.90" cy="409.30" r="7.4" fill="none" stroke="#0000ff" stroke-width="3.2"/>
<circle cx="919.95" cy="409.30" r="7.4" fill="none" stroke="#0000ff" stroke-width="3.2"/>
<circle cx="935.00" cy="409.30" r="7.4" fill="none" stroke="#0000ff" stroke-width="3.2"/>
<circle cx="950.05" cy="409.30" r="7.4" fill="none" stroke="#0000ff" stroke-width="3.2"/>
<circle cx="965.10" cy="409.30" r="7.4" fill="none" stroke="#0000ff" stroke-width="3.2"/>
<circle cx="980.15" cy="409.30" r="7.4" fill="none" stroke="#0000ff" stroke-width="3.2"/>
<circle cx="995.20" cy="409.30" r="7.4" fill="none" stroke="#0000ff" stroke-width="3.2"/>
<circle cx="1010.25" cy="409.30" r="7.4" fill="none" stroke="#0000ff" stroke-width="3.2"/>
<circle cx="1025.30" cy="409.30" r="7.4" fill="none" stroke="#0000ff" stroke-width="3.2"/>
<circle cx="1040.35" cy="409.30" r="7.4" fill="none" stroke="#0000ff" stroke-width="3.2"/>
<circle cx="1055.40" cy="197.83" r="7.4" fill="none" stroke="#0000ff" stroke-width="3.2"/>
<circle cx="1070.45" cy="178.90" r="7.4" fill="none" stroke="#0000ff" stroke-width="3.2"/>
<circle cx="1085.50" cy="164.55" r="7.4" fill="none" stroke="#0000ff" stroke-width="3.2"/>
<circle cx="1100.55" cy="154.22" r="7.4" fill="none" stroke="#0000ff" stroke-width="3.2"/>
<circle cx="1115.60" cy="145.04" r="7.4" fill="none" stroke="#0000ff" stroke-width="3.2"/>
<circle cx="1130.65" cy="138.15" r="7.4" fill="none" stroke="#0000ff" stroke-width="3.2"/>
<circle cx="1145.70" cy="133.27" r="7.4" fill="none" stroke="#0000ff" stroke-width="3.2"/>
<circle cx="1160.75" cy="129.83" r="7.4" fill="none" stroke="#0000ff" stroke-width="3.2"/>
<circle cx="1175.80" cy="128.40" r="7.4" fill="none" stroke="#0000ff" stroke-width="3.2"/>
<circle cx="1190.85" cy="128.40" r="7.4" fill="none" stroke="#0000ff" stroke-width="3.2"/>
<circle cx="1205.90" cy="129.83" r="7.4" fill="none" stroke="#0000ff" stroke-width="3.2"/>
<circle cx="1220.95" cy="132.70" r="7.4" fill="none" stroke="#0000ff" stroke-width="3.2"/>
<circle cx="1236.00" cy="136.57" r="7.4" fill="none" stroke="#0000ff" stroke-width="3.2"/>
<circle cx="1251.05" cy="142.17" r="7.4" fill="none" stroke="#0000ff" stroke-width="3.2"/>
<circle cx="1266.10" cy="149.34" r="7.4" fill="none" stroke="#0000ff" stroke-width="3.2"/>
<circle cx="1281.15" cy="157.66" r="7.4" fill="none" stroke="#0000ff" stroke-width="3.2"/>
<circle cx="1296.20" cy="168.71" r="7.4" fill="none" stroke="#0000ff" stroke-width="3.2"/>
<circle cx="1311.25" cy="181.48" r="7.4" fill="none" stroke="#0000ff" stroke-width="3.2"/>
<circle cx="1326.30" cy="204.72" r="7.4" fill="none" stroke="#0000ff" stroke-width="3.2"/>
<polyline points="754.40,409.30 769.45,409.30 784.50,409.30 799.55,409.30 814.60,409.30 829.65,409.30 844.70,409.30 859.75,409.30 874.80,409.30 889.85,409.30 904.90,409.30 919.95,409.30 935.00,409.30 950.05,409.30 965.10,409.30 980.15,409.30 995.20,409.30 1010.25,409.30 1025.30,409.30 1040.35,409.30 1055.40,278.17 1070.45,263.83 1085.50,253.78 1100.55,246.04 1115.60,238.58 1130.65,233.41 1145.70,228.82 1160.75,224.95 1175.80,221.65 1190.85,219.07 1205.90,217.34 1220.95,215.91 1236.00,215.34 1251.05,215.34 1266.10,215.91 1281.15,217.92 1296.20,220.36 1311.25,224.09 1326.30,228.82" fill="none" stroke="#ff0000" stroke-width="3.2" stroke-linejoin="round" clip-path="url(#clip1)"/>
<rect x="748.40" y="403.30" width="12.0" height="12.0" fill="none" stroke="#ff0000" stroke-width="3.2"/>
<rect x="763.45" y="403.30" width="12.0" height="12.0" fill="none" stroke="#ff0000" stroke-width="3.2"/>
<rect x="778.50" y="403.30" width="12.0" height="12.0" fill="none" stroke="#ff0000" stroke-width="3.2"/>
<rect x="793.55" y="403.30" width="12.0" height="12.0" fill="none" stroke="#ff0000" stroke-width="3.2"/>
<rect x="808.60" y="403.30" width="12.0" height="12.0" fill="none" stroke="#ff0000" stroke-width="3.2"/>
<rect x="823.65" y="403.30" width="12.0" height="12.0" fill="none" stroke="#ff0000" stroke-width="3.2"/>
<rect x="838.70" y="403.30" width="12.0" height="12.0" fill="none" stroke="#ff0000" stroke-width="3.2"/>
<rect x="853.75" y="403.30" width="12.0" height="12.0" fill="none" stroke="#ff0000" stroke-width="3.2"/>
<rect x="868.80" y="403.30" width="12.0" height="12.0" fill="none" stroke="#ff0000" stroke-width="3.2"/>
<rect x="883.85" y="403.30" width="12.0" height="12.0" fill="none" stroke="#ff0000" stroke-width="3.2"/>
<rect x="898.90" y="403.30" width="12.0" height="12.0" fill="none" stroke="#ff0000" stroke-width="3.2"/>
<rect x="913.95" y="403.30" width="12.0" height="12.0" fill="none" stroke="#ff0000" stroke-width="3.2"/>
<rect x="929.00" y="403.30" width="12.0" height="12.0" fill="none" stroke="#ff0000" stroke-width="3.2"/>
<rect x="944.05" y="403.30" width="12.0" height="12.0" fill="none" stroke="#ff0000" stroke-width="3.2"/>
<rect x="959.10" y="403.30" width="12.0" height="12.0" fill="none" stroke="#ff0000" stroke-width="3.2"/>
<rect x="974.15" y="403.30" width="12.0" height="12.0" fill="none" stroke="#ff0000" stroke-width="3.2"/>
<rect x="989.20" y="403.30" width="12.0" height="12.0" fill="none" stroke="#ff0000" stroke-width="3.2"/>
<rect x="1004.25" y="403.30" width="12.0" height="12.0" fill="none" stroke="#ff0000" stroke-width="3.2"/>
<rect x="1019.30" y="403.30" width="12.0" height="12.0" fill="none" stroke="#ff0000" stroke-width="3.2"/>
<rect x="1034.35" y="403.30" width="12.0" height="12.0" fill="none" stroke="#ff0000" stroke-width="3.2"/>
<rect x="1049.40" y="272.17" width="12.0" height="12.0" fill="none" stroke="#ff0000" stroke-width="3.2"/>
<rect x="1064.45" y="257.83" width="12.0" height="12.0" fill="none" stroke="#ff0000" stroke-width="3.2"/>
<rect x="1079.50" y="247.78" width="12.0" height="12.0" fill="none" stroke="#ff0000" stroke-width="3.2"/>
<rect x="1094.55" y="240.04" width="12.0" height="12.0" fill="none" stroke="#ff0000" stroke-width="3.2"/>
<rect x="1109.60" y="232.58" width="12.0" height="12.0" fill="none" stroke="#ff0000" stroke-width="3.2"/>
<rect x="1124.65" y="227.41" width="12.0" height="12.0" fill="none" stroke="#ff0000" stroke-width="3.2"/>
<rect x="1139.70" y="222.82" width="12.0" height="12.0" fill="none" stroke="#ff0000" stroke-width="3.2"/>
<rect x="1154.75" y="218.95" width="12.0" height="12.0" fill="none" stroke="#ff0000" stroke-width="3.2"/>
<rect x="1169.80" y="215.65" width="12.0" height="12.0" fill="none" stroke="#ff0000" stroke-width="3.2"/>
<rect x="1184.85" y="213.07" width="12.0" height="12.0" fill="none" stroke="#ff0000" stroke-width="3.2"/>
<rect x="1199.90" y="211.34" width="12.0" height="12.0" fill="none" stroke="#ff0000" stroke-width="3.2"/>
<rect x="1214.95" y="209.91" width="12.0" height="12.0" fill="none" stroke="#ff0000" stroke-width="3.2"/>
<rect x="1230.00" y="209.34" width="12.0" height="12.0" fill="none" stroke="#ff0000" stroke-width="3.2"/>
<rect x="1245.05" y="209.34" width="12.0" height="12.0" fill="none" stroke="#ff0000" stroke-width="3.2"/>
<rect x="1260.10" y="209.91" width="12.0" height="12.0" fill="none" stroke="#ff0000" stroke-width="3.2"/>
<rect x="1275.15" y="211.92" width="12.0" height="12.0" fill="none" stroke="#ff0000" stroke-width="3.2"/>
<rect x="1290.20" y="214.36" width="12.0" height="12.0" fill="none" stroke="#ff0000" stroke-width="3.2"/>
<rect x="1305.25" y="218.09" width="12.0" height="12.0" fill="none" stroke="#ff0000" stroke-width="3.2"/>
<rect x="1320.30" y="222.82" width="12.0" height="12.0" fill="none" stroke="#ff0000" stroke-width="3.2"/>
<polyline points="754.40,409.30 769.45,409.30 784.50,409.30 799.55,409.30 814.60,409.30 829.65,409.30 844.70,409.30 859.75,409.30 874.80,409.30 889.85,409.30 904.90,409.30 919.95,409.30 935.00,409.30 950.05,409.30 965.10,409.30 980.15,409.30 995.20,409.30 1010.25,409.30 1025.30,409.30 1040.35,409.30 1055.40,307.44 1070.45,294.24 1085.50,284.20 1100.55,278.17 1115.60,273.30 1130.65,268.13 1145.70,264.69 1160.75,260.38 1175.80,257.95 1190.85,255.51 1205.90,253.50 1220.95,251.78 1236.00,250.63 1251.05,250.05 1266.10,250.05 1281.15,250.34 1296.20,251.35 1311.25,253.50 1326.30,257.08" fill="none" stroke="#000000" stroke-width="3.2" stroke-linejoin="round" clip-path="url(#clip1)"/>
<path d="M754.40 399.30L763.06 414.30L745.74 414.30Z" fill="none" stroke="#000000" stroke-width="3.2" stroke-linejoin="miter"/>
<path d="M769.45 399.30L778.11 414.30L760.79 414.30Z" fill="none" stroke="#000000" stroke-width="3.2" stroke-linejoin="miter"/>
<path d="M784.50 399.30L793.16 414.30L775.84 414.30Z" fill="none" stroke="#000000" stroke-width="3.2" stroke-linejoin="miter"/>
<path d="M799.55 399.30L808.21 414.30L790.89 414.30Z" fill="none" stroke="#000000" stroke-width="3.2" stroke-linejoin="miter"/>
<path d="M814.60 399.30L823.26 414.30L805.94 414.30Z" fill="none" stroke="#000000" stroke-width="3.2" stroke-linejoin="miter"/>
<path d="M829.65 399.30L838.31 414.30L820.99 414.30Z" fill="none" stroke="#000000" stroke-width="3.2" stroke-linejoin="miter"/>
<path d="M844.70 399.30L853.36 414.30L836.04 414.30Z" fill="none" stroke="#000000" stroke-width="3.2" stroke-linejoin="miter"/>
<path d="M859.75 399.30L868.41 414.30L851.09 414.30Z" fill="none" stroke="#000000" stroke-width="3.2" stroke-linejoin="miter"/>
<path d="M874.80 399.30L883.46 414.30L866.14 414.30Z" fill="none" stroke="#000000" stroke-width="3.2" stroke-linejoin="miter"/>
<path d="M889.85 399.30L898.51 414.30L881.19 414.30Z" fill="none" stroke="#000000" stroke-width="3.2" stroke-linejoin="miter"/>
<path d="M904.90 399.30L913.56 414.30L896.24 414.30Z" fill="none" stroke="#000000" stroke-width="3.2" stroke-linejoin="miter"/>
<path d="M919.95 399.30L928.61 414.30L911.29 414.30Z" fill="none" stroke="#000000" stroke-width="3.2" stroke-linejoin="miter"/>
<path d="M935.00 399.30L943.66 414.30L926.34 414.30Z" fill="none" stroke="#000000" stroke-width="3.2" stroke-linejoin="miter"/>
<path d="M950.05 399.30L958.71 414.30L941.39 414.30Z" fill="none" stroke="#000000" stroke-width="3.2" stroke-linejoin="miter"/>
<path d="M965.10 399.30L973.76 414.30L956.44 414.30Z" fill="none" stroke="#000000" stroke-width="3.2" stroke-linejoin="miter"/>
<path d="M980.15 399.30L988.81 414.30L971.49 414.30Z" fill="none" stroke="#000000" stroke-width="3.2" stroke-linejoin="miter"/>
<path d="M995.20 399.30L1003.86 414.30L986.54 414.30Z" fill="none" stroke="#000000" stroke-width="3.2" stroke-linejoin="miter"/>
<path d="M1010.25 399.30L1018.91 414.30L1001.59 414.30Z" fill="none" stroke="#000000" stroke-width="3.2" stroke-linejoin="miter"/>
<path d="M1025.30 399.30L1033.96 414.30L1016.64 414.30Z" fill="none" stroke="#000000" stroke-width="3.2" stroke-linejoin="miter"/>
<path d="M1040.35 399.30L1049.01 414.30L1031.69 414.30Z" fill="none" stroke="#000000" stroke-width="3.2" stroke-linejoin="miter"/>
<path d="M1055.40 297.44L1064.06 312.44L1046.74 312.44Z" fill="none" stroke="#000000" stroke-width="3.2" stroke-linejoin="miter"/>
<path d="M1070.45 284.24L1079.11 299.24L1061.79 299.24Z" fill="none" stroke="#000000" stroke-width="3.2" stroke-linejoin="miter"/>
<path d="M1085.50 274.20L1094.16 289.20L1076.84 289.20Z" fill="none" stroke="#000000" stroke-width="3.2" stroke-linejoin="miter"/>
<path d="M1100.55 268.17L1109.21 283.17L1091.89 283.17Z" fill="none" stroke="#000000" stroke-width="3.2" stroke-linejoin="miter"/>
<path d="M1115.60 263.30L1124.26 278.30L1106.94 278.30Z" fill="none" stroke="#000000" stroke-width="3.2" stroke-linejoin="miter"/>
<path d="M1130.65 258.13L1139.31 273.13L1121.99 273.13Z" fill="none" stroke="#000000" stroke-width="3.2" stroke-linejoin="miter"/>
<path d="M1145.70 254.69L1154.36 269.69L1137.04 269.69Z" fill="none" stroke="#000000" stroke-width="3.2" stroke-linejoin="miter"/>
<path d="M1160.75 250.38L1169.41 265.38L1152.09 265.38Z" fill="none" stroke="#000000" stroke-width="3.2" stroke-linejoin="miter"/>
<path d="M1175.80 247.95L1184.46 262.95L1167.14 262.95Z" fill="none" stroke="#000000" stroke-width="3.2" stroke-linejoin="miter"/>
<path d="M1190.85 245.51L1199.51 260.51L1182.19 260.51Z" fill="none" stroke="#000000" stroke-width="3.2" stroke-linejoin="miter"/>
<path d="M1205.90 243.50L1214.56 258.50L1197.24 258.50Z" fill="none" stroke="#000000" stroke-width="3.2" stroke-linejoin="miter"/>
<path d="M1220.95 241.78L1229.61 256.78L1212.29 256.78Z" fill="none" stroke="#000000" stroke-width="3.2" stroke-linejoin="miter"/>
<path d="M1236.00 240.63L1244.66 255.63L1227.34 255.63Z" fill="none" stroke="#000000" stroke-width="3.2" stroke-linejoin="miter"/>
<path d="M1251.05 240.05L1259.71 255.05L1242.39 255.05Z" fill="none" stroke="#000000" stroke-width="3.2" stroke-linejoin="miter"/>
<path d="M1266.10 240.05L1274.76 255.05L1257.44 255.05Z" fill="none" stroke="#000000" stroke-width="3.2" stroke-linejoin="miter"/>
<path d="M1281.15 240.34L1289.81 255.34L1272.49 255.34Z" fill="none" stroke="#000000" stroke-width="3.2" stroke-linejoin="miter"/>
<path d="M1296.20 241.35L1304.86 256.35L1287.54 256.35Z" fill="none" stroke="#000000" stroke-width="3.2" stroke-linejoin="miter"/>
<path d="M1311.25 243.50L1319.91 258.50L1302.59 258.50Z" fill="none" stroke="#000000" stroke-width="3.2" stroke-linejoin="miter"/>
<path d="M1326.30 247.08L1334.96 262.08L1317.64 262.08Z" fill="none" stroke="#000000" stroke-width="3.2" stroke-linejoin="miter"/>
<polyline points="754.40,409.30 769.45,409.30 784.50,409.30 799.55,409.30 814.60,409.30 829.65,409.30 844.70,409.30 859.75,409.30 874.80,409.30 889.85,409.30 904.90,409.30 919.95,409.30 935.00,409.30 950.05,409.30 965.10,409.30 980.15,409.30 995.20,409.30 1010.25,409.30 1025.30,409.30 1040.35,409.30 1055.40,335.27 1070.45,322.65 1085.50,315.76 1100.55,310.74 1115.60,306.58 1130.65,303.14 1145.70,299.69 1160.75,297.11 1175.80,294.67 1190.85,292.52 1205.90,290.80 1220.95,289.65 1236.00,288.79 1251.05,288.07 1266.10,287.93 1281.15,287.93 1296.20,288.22 1311.25,288.79 1326.30,289.65" fill="none" stroke="#00ff00" stroke-width="3.2" stroke-linejoin="round" clip-path="url(#clip1)"/>
<path d="M746.80 409.30H762.00M754.40 401.70V416.90M749.03 403.93L759.77 414.67M749.03 414.67L759.77 403.93" fill="none" stroke="#00ff00" stroke-width="3.2"/>
<path d="M761.85 409.30H777.05M769.45 401.70V416.90M764.08 403.93L774.82 414.67M764.08 414.67L774.82 403.93" fill="none" stroke="#00ff00" stroke-width="3.2"/>
<path d="M776.90 409.30H792.10M784.50 401.70V416.90M779.13 403.93L789.87 414.67M779.13 414.67L789.87 403.93" fill="none" stroke="#00ff00" stroke-width="3.2"/>
<path d="M791.95 409.30H807.15M799.55 401.70V416.90M794.18 403.93L804.92 414.67M794.18 414.67L804.92 403.93" fill="none" stroke="#00ff00" stroke-width="3.2"/>
<path d="M807.00 409.30H822.20M814.60 401.70V416.90M809.23 403.93L819.97 414.67M809.23 414.67L819.97 403.93" fill="none" stroke="#00ff00" stroke-width="3.2"/>
<path d="M822.05 409.30H837.25M829.65 401.70V416.90M824.28 403.93L835.02 414.67M824.28 414.67L835.02 403.93" fill="none" stroke="#00ff00" stroke-width="3.2"/>
<path d="M837.10 409.30H852.30M844.70 401.70V416.90M839.33 403.93L850.07 414.67M839.33 414.67L850.07 403.93" fill="none" stroke="#00ff00" stroke-width="3.2"/>
<path d="M852.15 409.30H867.35M859.75 401.70V416.90M854.38 403.93L865.12 414.67M854.38 414.67L865.12 403.93" fill="none" stroke="#00ff00" stroke-width="3.2"/>
<path d="M867.20 409.30H882.40M874.80 401.70V416.90M869.43 403.93L880.17 414.67M869.43 414.67L880.17 403.93" fill="none" stroke="#00ff00" stroke-width="3.2"/>
<path d="M882.25 409.30H897.45M889.85 401.70V416.90M884.48 403.93L895.22 414.67M884.48 414.67L895.22 403.93" fill="none" stroke="#00ff00" stroke-width="3.2"/>
<path d="M897.30 409.30H912.50M904.90 401.70V416.90M899.53 403.93L910.27 414.67M899.53 414.67L910.27 403.93" fill="none" stroke="#00ff00" stroke-width="3.2"/>
<path d="M912.35 409.30H927.55M919.95 401.70V416.90M914.58 403.93L925.32 414.67M914.58 414.67L925.32 403.93" fill="none" stroke="#00ff00" stroke-width="3.2"/>
<path d="M927.40 409.30H942.60M935.00 401.70V416.90M929.63 403.93L940.37 414.67M929.63 414.67L940.37 403.93" fill="none" stroke="#00ff00" stroke-width="3.2"/>
<path d="M942.45 409.30H957.65M950.05 401.70V416.90M944.68 403.93L955.42 414.67M944.68 414.67L955.42 403.93" fill="none" stroke="#00ff00" stroke-width="3.2"/>
<path d="M957.50 409.30H972.70M965.10 401.70V416.90M959.73 403.93L970.47 414.67M959.73 414.67L970.47 403.93" fill="none" stroke="#00ff00" stroke-width="3.2"/>
<path d="M972.55 409.30H987.75M980.15 401.70V416.90M974.78 403.93L985.52 414.67M974.78 414.67L985.52 403.93" fill="none" stroke="#00ff00" stroke-width="3.2"/>
<path d="M987.60 409.30H1002.80M995.20 401.70V416.90M989.83 403.93L1000.57 414.67M989.83 414.67L1000.57 403.93" fill="none" stroke="#00ff00" stroke-width="3.2"/>
<path d="M1002.65 409.30H1017.85M1010.25 401.70V416.90M1004.88 403.93L1015.62 414.67M1004.88 414.67L1015.62 403.93" fill="none" stroke="#00ff00" stroke-width="3.2"/>
<path d="M1017.70 409.30H1032.90M1025.30 401.70V416.90M1019.93 403.93L1030.67 414.67M1019.93 414.67L1030.67 403.93" fill="none" stroke="#00ff00" stroke-width="3.2"/>
<path d="M1032.75 409.30H1047.95M1040.35 401.70V416.90M1034.98 403.93L1045.72 414.67M1034.98 414.67L1045.72 403.93" fill="none" stroke="#00ff00" stroke-width="3.2"/>
<path d="M1047.80 335.27H1063.00M1055.40 327.67V342.87M1050.03 329.90L1060.77 340.65M1050.03 340.65L1060.77 329.90" fill="none" stroke="#00ff00" stroke-width="3.2"/>
<path d="M1062.85 322.65H1078.05M1070.45 315.05V330.25M1065.08 317.27L1075.82 328.02M1065.08 328.02L1075.82 317.27" fill="none" stroke="#00ff00" stroke-width="3.2"/>
<path d="M1077.90 315.76H1093.10M1085.50 308.16V323.36M1080.13 310.39L1090.87 321.14M1080.13 321.14L1090.87 310.39" fill="none" stroke="#00ff00" stroke-width="3.2"/>
<path d="M1092.95 310.74H1108.15M1100.55 303.14V318.34M1095.18 305.37L1105.92 316.11M1095.18 316.11L1105.92 305.37" fill="none" stroke="#00ff00" stroke-width="3.2"/>
<path d="M1108.00 306.58H1123.20M1115.60 298.98V314.18M1110.23 301.21L1120.97 311.95M1110.23 311.95L1120.97 301.21" fill="none" stroke="#00ff00" stroke-width="3.2"/>
<path d="M1123.05 303.14H1138.25M1130.65 295.54V310.74M1125.28 297.76L1136.02 308.51M1125.28 308.51L1136.02 297.76" fill="none" stroke="#00ff00" stroke-width="3.2"/>
<path d="M1138.10 299.69H1153.30M1145.70 292.09V307.29M1140.33 294.32L1151.07 305.07M1140.33 305.07L1151.07 294.32" fill="none" stroke="#00ff00" stroke-width="3.2"/>
<path d="M1153.15 297.11H1168.35M1160.75 289.51V304.71M1155.38 291.74L1166.12 302.48M1155.38 302.48L1166.12 291.74" fill="none" stroke="#00ff00" stroke-width="3.2"/>
<path d="M1168.20 294.67H1183.40M1175.80 287.07V302.27M1170.43 289.30L1181.17 300.05M1170.43 300.05L1181.17 289.30" fill="none" stroke="#00ff00" stroke-width="3.2"/>
<path d="M1183.25 292.52H1198.45M1190.85 284.92V300.12M1185.48 287.15L1196.22 297.89M1185.48 297.89L1196.22 287.15" fill="none" stroke="#00ff00" stroke-width="3.2"/>
<path d="M1198.30 290.80H1213.50M1205.90 283.20V298.40M1200.53 285.42L1211.27 296.17M1200.53 296.17L1211.27 285.42" fill="none" stroke="#00ff00" stroke-width="3.2"/>
<path d="M1213.35 289.65H1228.55M1220.95 282.05V297.25M1215.58 284.28L1226.32 295.02M1215.58 295.02L1226.32 284.28" fill="none" stroke="#00ff00" stroke-width="3.2"/>
<path d="M1228.40 288.79H1243.60M1236.00 281.19V296.39M1230.63 283.42L1241.37 294.16M1230.63 294.16L1241.37 283.42" fill="none" stroke="#00ff00" stroke-width="3.2"/>
<path d="M1243.45 288.07H1258.65M1251.05 280.47V295.67M1245.68 282.70L1256.42 293.45M1245.68 293.45L1256.42 282.70" fill="none" stroke="#00ff00" stroke-width="3.2"/>
<path d="M1258.50 287.93H1273.70M1266.10 280.33V295.53M1260.73 282.56L1271.47 293.30M1260.73 293.30L1271.47 282.56" fill="none" stroke="#00ff00" stroke-width="3.2"/>
<path d="M1273.55 287.93H1288.75M1281.15 280.33V295.53M1275.78 282.56L1286.52 293.30M1275.78 293.30L1286.52 282.56" fill="none" stroke="#00ff00" stroke-width="3.2"/>
<path d="M1288.60 288.22H1303.80M1296.20 280.62V295.82M1290.83 282.84L1301.57 293.59M1290.83 293.59L1301.57 282.84" fill="none" stroke="#00ff00" stroke-width="3.2"/>
<path d="M1303.65 288.79H1318.85M1311.25 281.19V296.39M1305.88 283.42L1316.62 294.16M1305.88 294.16L1316.62 283.42" fill="none" stroke="#00ff00" stroke-width="3.2"/>
<path d="M1318.70 289.65H1333.90M1326.30 282.05V297.25M1320.93 284.28L1331.67 295.02M1320.93 295.02L1331.67 284.28" fill="none" stroke="#00ff00" stroke-width="3.2"/>
</g>
<rect x="732.6" y="15.8" width="101.9" height="90.2" fill="#fff" stroke="#262626" stroke-width="1.5"/>
<path d="M735.00 28.20h30.3" stroke="#0000ff" stroke-width="3.2" fill="none"/><circle cx="750.00" cy="28.20" r="7.4" fill="none" stroke="#0000ff" stroke-width="3.2"/>
<g font-family='"Liberation Serif", serif'><text transform="translate(767.37 32.90) scale(1.31 1)" font-size="17.6" fill="#000" font-style="italic">m</text><text transform="translate(788.27 34.80) scale(1.42 1)" font-size="18.8" fill="#000">=</text><text transform="translate(807.17 32.90) scale(1.06 1)" font-size="18.0" fill="#000" stroke="#000" stroke-width="0.3">0.1</text></g><path d="M767.90 22.00h16" stroke="#000" stroke-width="1" fill="none"/>
<path d="M735.00 49.80h30.3" stroke="#ff0000" stroke-width="3.2" fill="none"/><rect x="744.00" y="43.80" width="12.0" height="12.0" fill="none" stroke="#ff0000" stroke-width="3.2"/>
<g font-family='"Liberation Serif", serif'><text transform="translate(767.37 54.50) scale(1.31 1)" font-size="17.6" fill="#000" font-style="italic">m</text><text transform="translate(788.27 56.40) scale(1.42 1)" font-size="18.8" fill="#000">=</text><text transform="translate(807.17 54.50) scale(1.06 1)" font-size="18.0" fill="#000" stroke="#000" stroke-width="0.3">0.2</text></g><path d="M767.90 43.60h16" stroke="#000" stroke-width="1" fill="none"/>
<path d="M735.00 71.70h30.3" stroke="#000000" stroke-width="3.2" fill="none"/><path d="M750.00 61.70L758.66 76.70L741.34 76.70Z" fill="none" stroke="#000000" stroke-width="3.2" stroke-linejoin="miter"/>
<g font-family='"Liberation Serif", serif'><text transform="translate(767.37 76.40) scale(1.31 1)" font-size="17.6" fill="#000" font-style="italic">m</text><text transform="translate(788.27 78.30) scale(1.42 1)" font-size="18.8" fill="#000">=</text><text transform="translate(807.17 76.40) scale(1.06 1)" font-size="18.0" fill="#000" stroke="#000" stroke-width="0.3">0.3</text></g><path d="M767.90 65.50h16" stroke="#000" stroke-width="1" fill="none"/>
<path d="M735.00 93.40h30.3" stroke="#00ff00" stroke-width="3.2" fill="none"/><path d="M742.40 93.40H757.60M750.00 85.80V101.00M744.63 88.03L755.37 98.77M744.63 98.77L755.37 88.03" fill="none" stroke="#00ff00" stroke-width="3.2"/>
<g font-family='"Liberation Serif", serif'><text transform="translate(767.37 98.10) scale(1.31 1)" font-size="17.6" fill="#000" font-style="italic">m</text><text transform="translate(788.27 100.00) scale(1.42 1)" font-size="18.8" fill="#000">=</text><text transform="translate(807.17 98.10) scale(1.06 1)" font-size="18.0" fill="#000" stroke="#000" stroke-width="0.3">0.5</text></g><path d="M767.90 87.20h16" stroke="#000" stroke-width="1" fill="none"/>
<g id="panel2">
<clipPath id="clip2"><rect x="1396.3" y="7.6" width="602.0" height="401.7"/></clipPath>
<rect x="1396.3" y="7.6" width="602.0" height="401.7" fill="#fff" stroke="#262626" stroke-width="1.7"/>
<path d="M1396.30 409.3v-6.9M1396.30 7.6v6.9M1546.80 409.3v-6.9M1546.80 7.6v6.9M1697.30 409.3v-6.9M1697.30 7.6v6.9M1847.80 409.3v-6.9M1847.80 7.6v6.9M1998.30 409.3v-6.9M1998.30 7.6v6.9M1396.3 409.30h6.9M1998.3 409.30h-6.9M1396.3 342.35h6.9M1998.3 342.35h-6.9M1396.3 275.40h6.9M1998.3 275.40h-6.9M1396.3 208.45h6.9M1998.3 208.45h-6.9M1396.3 141.50h6.9M1998.3 141.50h-6.9M1396.3 74.55h6.9M1998.3 74.55h-6.9M1396.3 7.60h6.9M1998.3 7.60h-6.9" fill="none" stroke="#262626" stroke-width="1.7"/>
<g font-family='"Liberation Serif", serif'>
<text transform="translate(1391.36 432.40) scale(0.96 1)" font-size="20.6" fill="#262626" stroke="#262626" stroke-width="0.4">0</text>
<text transform="translate(1541.67 432.40) scale(0.96 1)" font-size="20.6" fill="#262626" stroke="#262626" stroke-width="0.4">5</text>
<text x="1686.49" y="432.40" font-size="20.6" fill="#262626" stroke="#262626" stroke-width="0.4">10</text>
<text x="1837.00" y="432.40" font-size="20.6" fill="#262626" stroke="#262626" stroke-width="0.4">15</text>
<text x="1987.94" y="432.40" font-size="20.6" fill="#262626" stroke="#262626" stroke-width="0.4">20</text>
<text transform="translate(1380.97 414.40) scale(0.96 1)" font-size="20.6" fill="#262626" stroke="#262626" stroke-width="0.4">0</text>
<text x="1365.15" y="347.45" font-size="20.6" fill="#262626" stroke="#262626" stroke-width="0.4">0.5</text>
<text transform="translate(1381.40 280.50) scale(0.96 1)" font-size="20.6" fill="#262626" stroke="#262626" stroke-width="0.4">1</text>
<text transform="translate(1364.66 213.55) scale(1.02 1)" font-size="20.6" fill="#262626" stroke="#262626" stroke-width="0.4">1.5</text>
<text transform="translate(1381.30 146.60) scale(0.96 1)" font-size="20.6" fill="#262626" stroke="#262626" stroke-width="0.4">2</text>
<text transform="translate(1364.66 79.65) scale(1.02 1)" font-size="20.6" fill="#262626" stroke="#262626" stroke-width="0.4">2.5</text>
<text transform="translate(1380.98 12.70) scale(0.96 1)" font-size="20.6" fill="#262626" stroke="#262626" stroke-width="0.4">3</text>
<text transform="translate(1683.85 459.00) scale(0.93 1)" font-size="24.0" fill="#262626" font-style="italic" stroke="#262626" stroke-width="0.4">U</text>
<text transform="translate(1699.69 462.40) scale(1.05 1)" font-size="16.8" fill="#262626" font-style="italic" stroke="#262626" stroke-width="0.4">r</text>
</g>
<polyline points="1426.40,384.26 1441.45,370.27 1456.50,356.73 1471.55,343.15 1486.60,329.63 1501.65,314.90 1516.70,295.42 1531.75,281.02 1546.80,275.00 1561.85,271.52 1576.90,267.37 1591.95,273.12 1607.00,272.19 1622.05,270.45 1637.10,267.50 1652.15,264.15 1667.20,259.87 1682.25,254.78 1697.30,243.26 1712.35,227.33 1727.40,90.08 1742.45,95.04 1757.50,99.19 1772.55,103.34 1787.60,106.69 1802.65,109.10 1817.70,111.64 1832.75,112.98 1847.80,113.78 1862.85,113.78 1877.90,112.98 1892.95,111.64 1908.00,109.10 1923.05,106.69 1938.10,103.34 1953.15,99.19 1968.20,94.23 1983.25,89.28 1998.30,83.52" fill="none" stroke="#0000ff" stroke-width="3.2" stroke-linejoin="round" clip-path="url(#clip2)"/>
<circle cx="1426.40" cy="384.26" r="7.4" fill="none" stroke="#0000ff" stroke-width="3.2"/>
<circle cx="1441.45" cy="370.27" r="7.4" fill="none" stroke="#0000ff" stroke-width="3.2"/>
<circle cx="1456.50" cy="356.73" r="7.4" fill="none" stroke="#0000ff" stroke-width="3.2"/>
<circle cx="1471.55" cy="343.15" r="7.4" fill="none" stroke="#0000ff" stroke-width="3.2"/>
<circle cx="1486.60" cy="329.63" r="7.4" fill="none" stroke="#0000ff" stroke-width="3.2"/>
<circle cx="1501.65" cy="314.90" r="7.4" fill="none" stroke="#0000ff" stroke-width="3.2"/>
<circle cx="1516.70" cy="295.42" r="7.4" fill="none" stroke="#0000ff" stroke-width="3.2"/>
<circle cx="1531.75" cy="281.02" r="7.4" fill="none" stroke="#0000ff" stroke-width="3.2"/>
<circle cx="1546.80" cy="275.00" r="7.4" fill="none" stroke="#0000ff" stroke-width="3.2"/>
<circle cx="1561.85" cy="271.52" r="7.4" fill="none" stroke="#0000ff" stroke-width="3.2"/>
<circle cx="1576.90" cy="267.37" r="7.4" fill="none" stroke="#0000ff" stroke-width="3.2"/>
<circle cx="1591.95" cy="273.12" r="7.4" fill="none" stroke="#0000ff" stroke-width="3.2"/>
<circle cx="1607.00" cy="272.19" r="7.4" fill="none" stroke="#0000ff" stroke-width="3.2"/>
<circle cx="1622.05" cy="270.45" r="7.4" fill="none" stroke="#0000ff" stroke-width="3.2"/>
<circle cx="1637.10" cy="267.50" r="7.4" fill="none" stroke="#0000ff" stroke-width="3.2"/>
<circle cx="1652.15" cy="264.15" r="7.4" fill="none" stroke="#0000ff" stroke-width="3.2"/>
<circle cx="1667.20" cy="259.87" r="7.4" fill="none" stroke="#0000ff" stroke-width="3.2"/>
<circle cx="1682.25" cy="254.78" r="7.4" fill="none" stroke="#0000ff" stroke-width="3.2"/>
<circle cx="1697.30" cy="243.26" r="7.4" fill="none" stroke="#0000ff" stroke-width="3.2"/>
<circle cx="1712.35" cy="227.33" r="7.4" fill="none" stroke="#0000ff" stroke-width="3.2"/>
<circle cx="1727.40" cy="90.08" r="7.4" fill="none" stroke="#0000ff" stroke-width="3.2"/>
<circle cx="1742.45" cy="95.04" r="7.4" fill="none" stroke="#0000ff" stroke-width="3.2"/>
<circle cx="1757.50" cy="99.19" r="7.4" fill="none" stroke="#0000ff" stroke-width="3.2"/>
<circle cx="1772.55" cy="103.34" r="7.4" fill="none" stroke="#0000ff" stroke-width="3.2"/>
<circle cx="1787.60" cy="106.69" r="7.4" fill="none" stroke="#0000ff" stroke-width="3.2"/>
<circle cx="1802.65" cy="109.10" r="7.4" fill="none" stroke="#0000ff" stroke-width="3.2"/>
<circle cx="1817.70" cy="111.64" r="7.4" fill="none" stroke="#0000ff" stroke-width="3.2"/>
<circle cx="1832.75" cy="112.98" r="7.4" fill="none" stroke="#0000ff" stroke-width="3.2"/>
<circle cx="1847.80" cy="113.78" r="7.4" fill="none" stroke="#0000ff" stroke-width="3.2"/>
<circle cx="1862.85" cy="113.78" r="7.4" fill="none" stroke="#0000ff" stroke-width="3.2"/>
<circle cx="1877.90" cy="112.98" r="7.4" fill="none" stroke="#0000ff" stroke-width="3.2"/>
<circle cx="1892.95" cy="111.64" r="7.4" fill="none" stroke="#0000ff" stroke-width="3.2"/>
<circle cx="1908.00" cy="109.10" r="7.4" fill="none" stroke="#0000ff" stroke-width="3.2"/>
<circle cx="1923.05" cy="106.69" r="7.4" fill="none" stroke="#0000ff" stroke-width="3.2"/>
<circle cx="1938.10" cy="103.34" r="7.4" fill="none" stroke="#0000ff" stroke-width="3.2"/>
<circle cx="1953.15" cy="99.19" r="7.4" fill="none" stroke="#0000ff" stroke-width="3.2"/>
<circle cx="1968.20" cy="94.23" r="7.4" fill="none" stroke="#0000ff" stroke-width="3.2"/>
<circle cx="1983.25" cy="89.28" r="7.4" fill="none" stroke="#0000ff" stroke-width="3.2"/>
<circle cx="1998.30" cy="83.52" r="7.4" fill="none" stroke="#0000ff" stroke-width="3.2"/>
<polyline points="1426.40,384.26 1441.45,370.27 1456.50,356.73 1471.55,343.15 1486.60,329.63 1501.65,314.90 1516.70,295.42 1531.75,281.02 1546.80,275.00 1561.85,271.52 1576.90,267.37 1591.95,273.12 1607.00,272.19 1622.05,270.45 1637.10,267.50 1652.15,264.15 1667.20,259.87 1682.25,254.78 1697.30,243.26 1712.35,227.33 1727.40,67.86 1742.45,69.13 1757.50,70.40 1772.55,71.74 1787.60,73.08 1802.65,74.01 1817.70,74.95 1832.75,75.49 1847.80,76.02 1862.85,76.09 1877.90,76.16 1892.95,75.89 1908.00,75.62 1923.05,74.95 1938.10,74.28 1953.15,73.28 1968.20,72.27 1983.25,71.20 1998.30,70.13" fill="none" stroke="#ff0000" stroke-width="3.2" stroke-linejoin="round" clip-path="url(#clip2)"/>
<rect x="1420.40" y="378.26" width="12.0" height="12.0" fill="none" stroke="#ff0000" stroke-width="3.2"/>
<rect x="1435.45" y="364.27" width="12.0" height="12.0" fill="none" stroke="#ff0000" stroke-width="3.2"/>
<rect x="1450.50" y="350.73" width="12.0" height="12.0" fill="none" stroke="#ff0000" stroke-width="3.2"/>
<rect x="1465.55" y="337.15" width="12.0" height="12.0" fill="none" stroke="#ff0000" stroke-width="3.2"/>
<rect x="1480.60" y="323.63" width="12.0" height="12.0" fill="none" stroke="#ff0000" stroke-width="3.2"/>
<rect x="1495.65" y="308.90" width="12.0" height="12.0" fill="none" stroke="#ff0000" stroke-width="3.2"/>
<rect x="1510.70" y="289.42" width="12.0" height="12.0" fill="none" stroke="#ff0000" stroke-width="3.2"/>
<rect x="1525.75" y="275.02" width="12.0" height="12.0" fill="none" stroke="#ff0000" stroke-width="3.2"/>
<rect x="1540.80" y="269.00" width="12.0" height="12.0" fill="none" stroke="#ff0000" stroke-width="3.2"/>
<rect x="1555.85" y="265.52" width="12.0" height="12.0" fill="none" stroke="#ff0000" stroke-width="3.2"/>
<rect x="1570.90" y="261.37" width="12.0" height="12.0" fill="none" stroke="#ff0000" stroke-width="3.2"/>
<rect x="1585.95" y="267.12" width="12.0" height="12.0" fill="none" stroke="#ff0000" stroke-width="3.2"/>
<rect x="1601.00" y="266.19" width="12.0" height="12.0" fill="none" stroke="#ff0000" stroke-width="3.2"/>
<rect x="1616.05" y="264.45" width="12.0" height="12.0" fill="none" stroke="#ff0000" stroke-width="3.2"/>
<rect x="1631.10" y="261.50" width="12.0" height="12.0" fill="none" stroke="#ff0000" stroke-width="3.2"/>
<rect x="1646.15" y="258.15" width="12.0" height="12.0" fill="none" stroke="#ff0000" stroke-width="3.2"/>
<rect x="1661.20" y="253.87" width="12.0" height="12.0" fill="none" stroke="#ff0000" stroke-width="3.2"/>
<rect x="1676.25" y="248.78" width="12.0" height="12.0" fill="none" stroke="#ff0000" stroke-width="3.2"/>
<rect x="1691.30" y="237.26" width="12.0" height="12.0" fill="none" stroke="#ff0000" stroke-width="3.2"/>
<rect x="1706.35" y="221.33" width="12.0" height="12.0" fill="none" stroke="#ff0000" stroke-width="3.2"/>
<rect x="1721.40" y="61.86" width="12.0" height="12.0" fill="none" stroke="#ff0000" stroke-width="3.2"/>
<rect x="1736.45" y="63.13" width="12.0" height="12.0" fill="none" stroke="#ff0000" stroke-width="3.2"/>
<rect x="1751.50" y="64.40" width="12.0" height="12.0" fill="none" stroke="#ff0000" stroke-width="3.2"/>
<rect x="1766.55" y="65.74" width="12.0" height="12.0" fill="none" stroke="#ff0000" stroke-width="3.2"/>
<rect x="1781.60" y="67.08" width="12.0" height="12.0" fill="none" stroke="#ff0000" stroke-width="3.2"/>
<rect x="1796.65" y="68.01" width="12.0" height="12.0" fill="none" stroke="#ff0000" stroke-width="3.2"/>
<rect x="1811.70" y="68.95" width="12.0" height="12.0" fill="none" stroke="#ff0000" stroke-width="3.2"/>
<rect x="1826.75" y="69.49" width="12.0" height="12.0" fill="none" stroke="#ff0000" stroke-width="3.2"/>
<rect x="1841.80" y="70.02" width="12.0" height="12.0" fill="none" stroke="#ff0000" stroke-width="3.2"/>
<rect x="1856.85" y="70.09" width="12.0" height="12.0" fill="none" stroke="#ff0000" stroke-width="3.2"/>
<rect x="1871.90" y="70.16" width="12.0" height="12.0" fill="none" stroke="#ff0000" stroke-width="3.2"/>
<rect x="1886.95" y="69.89" width="12.0" height="12.0" fill="none" stroke="#ff0000" stroke-width="3.2"/>
<rect x="1902.00" y="69.62" width="12.0" height="12.0" fill="none" stroke="#ff0000" stroke-width="3.2"/>
<rect x="1917.05" y="68.95" width="12.0" height="12.0" fill="none" stroke="#ff0000" stroke-width="3.2"/>
<rect x="1932.10" y="68.28" width="12.0" height="12.0" fill="none" stroke="#ff0000" stroke-width="3.2"/>
<rect x="1947.15" y="67.28" width="12.0" height="12.0" fill="none" stroke="#ff0000" stroke-width="3.2"/>
<rect x="1962.20" y="66.27" width="12.0" height="12.0" fill="none" stroke="#ff0000" stroke-width="3.2"/>
<rect x="1977.25" y="65.20" width="12.0" height="12.0" fill="none" stroke="#ff0000" stroke-width="3.2"/>
<rect x="1992.30" y="64.13" width="12.0" height="12.0" fill="none" stroke="#ff0000" stroke-width="3.2"/>
<polyline points="1426.40,384.26 1441.45,370.27 1456.50,356.73 1471.55,343.15 1486.60,329.63 1501.65,314.90 1516.70,295.42 1531.75,281.02 1546.80,275.00 1561.85,271.52 1576.90,267.37 1591.95,273.12 1607.00,272.19 1622.05,270.45 1637.10,267.50 1652.15,264.15 1667.20,259.87 1682.25,254.78 1697.30,243.26 1712.35,227.33 1727.40,62.90 1742.45,62.78 1757.50,62.66 1772.55,62.54 1787.60,62.42 1802.65,62.31 1817.70,62.19 1832.75,62.07 1847.80,61.95 1862.85,61.83 1877.90,61.71 1892.95,61.59 1908.00,61.47 1923.05,61.35 1938.10,61.23 1953.15,61.12 1968.20,61.00 1983.25,60.88 1998.30,60.76" fill="none" stroke="#000000" stroke-width="3.2" stroke-linejoin="round" clip-path="url(#clip2)"/>
<path d="M1426.40 374.26L1435.06 389.26L1417.74 389.26Z" fill="none" stroke="#000000" stroke-width="3.2" stroke-linejoin="miter"/>
<path d="M1441.45 360.27L1450.11 375.27L1432.79 375.27Z" fill="none" stroke="#000000" stroke-width="3.2" stroke-linejoin="miter"/>
<path d="M1456.50 346.73L1465.16 361.73L1447.84 361.73Z" fill="none" stroke="#000000" stroke-width="3.2" stroke-linejoin="miter"/>
<path d="M1471.55 333.15L1480.21 348.15L1462.89 348.15Z" fill="none" stroke="#000000" stroke-width="3.2" stroke-linejoin="miter"/>
<path d="M1486.60 319.63L1495.26 334.63L1477.94 334.63Z" fill="none" stroke="#000000" stroke-width="3.2" stroke-linejoin="miter"/>
<path d="M1501.65 304.90L1510.31 319.90L1492.99 319.90Z" fill="none" stroke="#000000" stroke-width="3.2" stroke-linejoin="miter"/>
<path d="M1516.70 285.42L1525.36 300.42L1508.04 300.42Z" fill="none" stroke="#000000" stroke-width="3.2" stroke-linejoin="miter"/>
<path d="M1531.75 271.02L1540.41 286.02L1523.09 286.02Z" fill="none" stroke="#000000" stroke-width="3.2" stroke-linejoin="miter"/>
<path d="M1546.80 265.00L1555.46 280.00L1538.14 280.00Z" fill="none" stroke="#000000" stroke-width="3.2" stroke-linejoin="miter"/>
<path d="M1561.85 261.52L1570.51 276.52L1553.19 276.52Z" fill="none" stroke="#000000" stroke-width="3.2" stroke-linejoin="miter"/>
<path d="M1576.90 257.37L1585.56 272.37L1568.24 272.37Z" fill="none" stroke="#000000" stroke-width="3.2" stroke-linejoin="miter"/>
<path d="M1591.95 263.12L1600.61 278.12L1583.29 278.12Z" fill="none" stroke="#000000" stroke-width="3.2" stroke-linejoin="miter"/>
<path d="M1607.00 262.19L1615.66 277.19L1598.34 277.19Z" fill="none" stroke="#000000" stroke-width="3.2" stroke-linejoin="miter"/>
<path d="M1622.05 260.45L1630.71 275.45L1613.39 275.45Z" fill="none" stroke="#000000" stroke-width="3.2" stroke-linejoin="miter"/>
<path d="M1637.10 257.50L1645.76 272.50L1628.44 272.50Z" fill="none" stroke="#000000" stroke-width="3.2" stroke-linejoin="miter"/>
<path d="M1652.15 254.15L1660.81 269.15L1643.49 269.15Z" fill="none" stroke="#000000" stroke-width="3.2" stroke-linejoin="miter"/>
<path d="M1667.20 249.87L1675.86 264.87L1658.54 264.87Z" fill="none" stroke="#000000" stroke-width="3.2" stroke-linejoin="miter"/>
<path d="M1682.25 244.78L1690.91 259.78L1673.59 259.78Z" fill="none" stroke="#000000" stroke-width="3.2" stroke-linejoin="miter"/>
<path d="M1697.30 233.26L1705.96 248.26L1688.64 248.26Z" fill="none" stroke="#000000" stroke-width="3.2" stroke-linejoin="miter"/>
<path d="M1712.35 217.33L1721.01 232.33L1703.69 232.33Z" fill="none" stroke="#000000" stroke-width="3.2" stroke-linejoin="miter"/>
<path d="M1727.40 52.90L1736.06 67.90L1718.74 67.90Z" fill="none" stroke="#000000" stroke-width="3.2" stroke-linejoin="miter"/>
<path d="M1742.45 52.78L1751.11 67.78L1733.79 67.78Z" fill="none" stroke="#000000" stroke-width="3.2" stroke-linejoin="miter"/>
<path d="M1757.50 52.66L1766.16 67.66L1748.84 67.66Z" fill="none" stroke="#000000" stroke-width="3.2" stroke-linejoin="miter"/>
<path d="M1772.55 52.54L1781.21 67.54L1763.89 67.54Z" fill="none" stroke="#000000" stroke-width="3.2" stroke-linejoin="miter"/>
<path d="M1787.60 52.42L1796.26 67.42L1778.94 67.42Z" fill="none" stroke="#000000" stroke-width="3.2" stroke-linejoin="miter"/>
<path d="M1802.65 52.31L1811.31 67.31L1793.99 67.31Z" fill="none" stroke="#000000" stroke-width="3.2" stroke-linejoin="miter"/>
<path d="M1817.70 52.19L1826.36 67.19L1809.04 67.19Z" fill="none" stroke="#000000" stroke-width="3.2" stroke-linejoin="miter"/>
<path d="M1832.75 52.07L1841.41 67.07L1824.09 67.07Z" fill="none" stroke="#000000" stroke-width="3.2" stroke-linejoin="miter"/>
<path d="M1847.80 51.95L1856.46 66.95L1839.14 66.95Z" fill="none" stroke="#000000" stroke-width="3.2" stroke-linejoin="miter"/>
<path d="M1862.85 51.83L1871.51 66.83L1854.19 66.83Z" fill="none" stroke="#000000" stroke-width="3.2" stroke-linejoin="miter"/>
<path d="M1877.90 51.71L1886.56 66.71L1869.24 66.71Z" fill="none" stroke="#000000" stroke-width="3.2" stroke-linejoin="miter"/>
<path d="M1892.95 51.59L1901.61 66.59L1884.29 66.59Z" fill="none" stroke="#000000" stroke-width="3.2" stroke-linejoin="miter"/>
<path d="M1908.00 51.47L1916.66 66.47L1899.34 66.47Z" fill="none" stroke="#000000" stroke-width="3.2" stroke-linejoin="miter"/>
<path d="M1923.05 51.35L1931.71 66.35L1914.39 66.35Z" fill="none" stroke="#000000" stroke-width="3.2" stroke-linejoin="miter"/>
<path d="M1938.10 51.23L1946.76 66.23L1929.44 66.23Z" fill="none" stroke="#000000" stroke-width="3.2" stroke-linejoin="miter"/>
<path d="M1953.15 51.12L1961.81 66.12L1944.49 66.12Z" fill="none" stroke="#000000" stroke-width="3.2" stroke-linejoin="miter"/>
<path d="M1968.20 51.00L1976.86 66.00L1959.54 66.00Z" fill="none" stroke="#000000" stroke-width="3.2" stroke-linejoin="miter"/>
<path d="M1983.25 50.88L1991.91 65.88L1974.59 65.88Z" fill="none" stroke="#000000" stroke-width="3.2" stroke-linejoin="miter"/>
<path d="M1998.30 50.76L2006.96 65.76L1989.64 65.76Z" fill="none" stroke="#000000" stroke-width="3.2" stroke-linejoin="miter"/>
<polyline points="1426.40,384.26 1441.45,370.27 1456.50,356.73 1471.55,343.15 1486.60,329.63 1501.65,314.90 1516.70,295.42 1531.75,281.02 1546.80,275.00 1561.85,271.52 1576.90,267.37 1591.95,273.12 1607.00,272.19 1622.05,270.45 1637.10,267.50 1652.15,264.15 1667.20,259.87 1682.25,254.78 1697.30,243.26 1712.35,227.33 1727.40,59.69 1742.45,57.28 1757.50,56.94 1772.55,56.60 1787.60,56.26 1802.65,55.92 1817.70,55.58 1832.75,55.24 1847.80,54.91 1862.85,54.57 1877.90,54.23 1892.95,53.89 1908.00,53.55 1923.05,53.21 1938.10,52.87 1953.15,52.54 1968.20,52.20 1983.25,51.86 1998.30,51.52" fill="none" stroke="#00ff00" stroke-width="3.2" stroke-linejoin="round" clip-path="url(#clip2)"/>
<path d="M1418.80 384.26H1434.00M1426.40 376.66V391.86M1421.03 378.89L1431.77 389.63M1421.03 389.63L1431.77 378.89" fill="none" stroke="#00ff00" stroke-width="3.2"/>
<path d="M1433.85 370.27H1449.05M1441.45 362.67V377.87M1436.08 364.89L1446.82 375.64M1436.08 375.64L1446.82 364.89" fill="none" stroke="#00ff00" stroke-width="3.2"/>
<path d="M1448.90 356.73H1464.10M1456.50 349.13V364.33M1451.13 351.36L1461.87 362.10M1451.13 362.10L1461.87 351.36" fill="none" stroke="#00ff00" stroke-width="3.2"/>
<path d="M1463.95 343.15H1479.15M1471.55 335.55V350.75M1466.18 337.78L1476.92 348.53M1466.18 348.53L1476.92 337.78" fill="none" stroke="#00ff00" stroke-width="3.2"/>
<path d="M1479.00 329.63H1494.20M1486.60 322.03V337.23M1481.23 324.26L1491.97 335.00M1481.23 335.00L1491.97 324.26" fill="none" stroke="#00ff00" stroke-width="3.2"/>
<path d="M1494.05 314.90H1509.25M1501.65 307.30V322.50M1496.28 309.53L1507.02 320.27M1496.28 320.27L1507.02 309.53" fill="none" stroke="#00ff00" stroke-width="3.2"/>
<path d="M1509.10 295.42H1524.30M1516.70 287.82V303.02M1511.33 290.04L1522.07 300.79M1511.33 300.79L1522.07 290.04" fill="none" stroke="#00ff00" stroke-width="3.2"/>
<path d="M1524.15 281.02H1539.35M1531.75 273.42V288.62M1526.38 275.65L1537.12 286.40M1526.38 286.40L1537.12 275.65" fill="none" stroke="#00ff00" stroke-width="3.2"/>
<path d="M1539.20 275.00H1554.40M1546.80 267.40V282.60M1541.43 269.62L1552.17 280.37M1541.43 280.37L1552.17 269.62" fill="none" stroke="#00ff00" stroke-width="3.2"/>
<path d="M1554.25 271.52H1569.45M1561.85 263.92V279.12M1556.48 266.14L1567.22 276.89M1556.48 276.89L1567.22 266.14" fill="none" stroke="#00ff00" stroke-width="3.2"/>
<path d="M1569.30 267.37H1584.50M1576.90 259.77V274.97M1571.53 261.99L1582.27 272.74M1571.53 272.74L1582.27 261.99" fill="none" stroke="#00ff00" stroke-width="3.2"/>
<path d="M1584.35 273.12H1599.55M1591.95 265.52V280.72M1586.58 267.75L1597.32 278.50M1586.58 278.50L1597.32 267.75" fill="none" stroke="#00ff00" stroke-width="3.2"/>
<path d="M1599.40 272.19H1614.60M1607.00 264.59V279.79M1601.63 266.81L1612.37 277.56M1601.63 277.56L1612.37 266.81" fill="none" stroke="#00ff00" stroke-width="3.2"/>
<path d="M1614.45 270.45H1629.65M1622.05 262.85V278.05M1616.68 265.07L1627.42 275.82M1616.68 275.82L1627.42 265.07" fill="none" stroke="#00ff00" stroke-width="3.2"/>
<path d="M1629.50 267.50H1644.70M1637.10 259.90V275.10M1631.73 262.13L1642.47 272.87M1631.73 272.87L1642.47 262.13" fill="none" stroke="#00ff00" stroke-width="3.2"/>
<path d="M1644.55 264.15H1659.75M1652.15 256.55V271.75M1646.78 258.78L1657.52 269.53M1646.78 269.53L1657.52 258.78" fill="none" stroke="#00ff00" stroke-width="3.2"/>
<path d="M1659.60 259.87H1674.80M1667.20 252.27V267.47M1661.83 254.49L1672.57 265.24M1661.83 265.24L1672.57 254.49" fill="none" stroke="#00ff00" stroke-width="3.2"/>
<path d="M1674.65 254.78H1689.85M1682.25 247.18V262.38M1676.88 249.41L1687.62 260.15M1676.88 260.15L1687.62 249.41" fill="none" stroke="#00ff00" stroke-width="3.2"/>
<path d="M1689.70 243.26H1704.90M1697.30 235.66V250.86M1691.93 237.89L1702.67 248.64M1691.93 248.64L1702.67 237.89" fill="none" stroke="#00ff00" stroke-width="3.2"/>
<path d="M1704.75 227.33H1719.95M1712.35 219.73V234.93M1706.98 221.96L1717.72 232.70M1706.98 232.70L1717.72 221.96" fill="none" stroke="#00ff00" stroke-width="3.2"/>
<path d="M1719.80 59.69H1735.00M1727.40 52.09V67.29M1722.03 54.31L1732.77 65.06M1722.03 65.06L1732.77 54.31" fill="none" stroke="#00ff00" stroke-width="3.2"/>
<path d="M1734.85 57.28H1750.05M1742.45 49.68V64.88M1737.08 51.90L1747.82 62.65M1737.08 62.65L1747.82 51.90" fill="none" stroke="#00ff00" stroke-width="3.2"/>
<path d="M1749.90 56.94H1765.10M1757.50 49.34V64.54M1752.13 51.56L1762.87 62.31M1752.13 62.31L1762.87 51.56" fill="none" stroke="#00ff00" stroke-width="3.2"/>
<path d="M1764.95 56.60H1780.15M1772.55 49.00V64.20M1767.18 51.23L1777.92 61.97M1767.18 61.97L1777.92 51.23" fill="none" stroke="#00ff00" stroke-width="3.2"/>
<path d="M1780.00 56.26H1795.20M1787.60 48.66V63.86M1782.23 50.89L1792.97 61.63M1782.23 61.63L1792.97 50.89" fill="none" stroke="#00ff00" stroke-width="3.2"/>
<path d="M1795.05 55.92H1810.25M1802.65 48.32V63.52M1797.28 50.55L1808.02 61.30M1797.28 61.30L1808.02 50.55" fill="none" stroke="#00ff00" stroke-width="3.2"/>
<path d="M1810.10 55.58H1825.30M1817.70 47.98V63.18M1812.33 50.21L1823.07 60.96M1812.33 60.96L1823.07 50.21" fill="none" stroke="#00ff00" stroke-width="3.2"/>
<path d="M1825.15 55.24H1840.35M1832.75 47.64V62.84M1827.38 49.87L1838.12 60.62M1827.38 60.62L1838.12 49.87" fill="none" stroke="#00ff00" stroke-width="3.2"/>
<path d="M1840.20 54.91H1855.40M1847.80 47.31V62.51M1842.43 49.53L1853.17 60.28M1842.43 60.28L1853.17 49.53" fill="none" stroke="#00ff00" stroke-width="3.2"/>
<path d="M1855.25 54.57H1870.45M1862.85 46.97V62.17M1857.48 49.19L1868.22 59.94M1857.48 59.94L1868.22 49.19" fill="none" stroke="#00ff00" stroke-width="3.2"/>
<path d="M1870.30 54.23H1885.50M1877.90 46.63V61.83M1872.53 48.85L1883.27 59.60M1872.53 59.60L1883.27 48.85" fill="none" stroke="#00ff00" stroke-width="3.2"/>
<path d="M1885.35 53.89H1900.55M1892.95 46.29V61.49M1887.58 48.52L1898.32 59.26M1887.58 59.26L1898.32 48.52" fill="none" stroke="#00ff00" stroke-width="3.2"/>
<path d="M1900.40 53.55H1915.60M1908.00 45.95V61.15M1902.63 48.18L1913.37 58.93M1902.63 58.93L1913.37 48.18" fill="none" stroke="#00ff00" stroke-width="3.2"/>
<path d="M1915.45 53.21H1930.65M1923.05 45.61V60.81M1917.68 47.84L1928.42 58.59M1917.68 58.59L1928.42 47.84" fill="none" stroke="#00ff00" stroke-width="3.2"/>
<path d="M1930.50 52.87H1945.70M1938.10 45.27V60.47M1932.73 47.50L1943.47 58.25M1932.73 58.25L1943.47 47.50" fill="none" stroke="#00ff00" stroke-width="3.2"/>
<path d="M1945.55 52.54H1960.75M1953.15 44.94V60.14M1947.78 47.16L1958.52 57.91M1947.78 57.91L1958.52 47.16" fill="none" stroke="#00ff00" stroke-width="3.2"/>
<path d="M1960.60 52.20H1975.80M1968.20 44.60V59.80M1962.83 46.82L1973.57 57.57M1962.83 57.57L1973.57 46.82" fill="none" stroke="#00ff00" stroke-width="3.2"/>
<path d="M1975.65 51.86H1990.85M1983.25 44.26V59.46M1977.88 46.48L1988.62 57.23M1977.88 57.23L1988.62 46.48" fill="none" stroke="#00ff00" stroke-width="3.2"/>
<path d="M1990.70 51.52H2005.90M1998.30 43.92V59.12M1992.93 46.15L2003.67 56.89M1992.93 56.89L2003.67 46.15" fill="none" stroke="#00ff00" stroke-width="3.2"/>
<polyline points="1426.40,384.26 1441.45,370.27 1456.50,356.73 1471.55,343.15 1486.60,329.63 1501.65,314.90 1516.70,295.42 1531.75,281.02 1546.80,275.00 1561.85,271.52 1576.90,267.37 1591.95,273.12 1607.00,272.19 1622.05,270.45 1637.10,267.50 1652.15,264.15 1667.20,259.87 1682.25,254.78 1697.30,243.26 1712.35,227.33 1727.40,209.12 1742.45,193.19 1757.50,179.39 1772.55,166.27 1787.60,154.22 1802.65,142.71 1817.70,129.85 1832.75,117.93 1847.80,107.49 1862.85,95.97 1877.90,84.32 1892.95,72.14 1908.00,61.16 1923.05,50.45 1938.10,39.74 1953.15,28.22 1968.20,17.51 1983.25,6.93 1998.30,-4.45" fill="none" stroke="#ff00ff" stroke-width="3.2" stroke-linejoin="round" clip-path="url(#clip2)"/>
<path d="M1420.96 378.82L1431.84 389.71M1420.96 389.71L1431.84 378.82" fill="none" stroke="#ff00ff" stroke-width="3.2"/>
<path d="M1436.01 364.82L1446.89 375.71M1436.01 375.71L1446.89 364.82" fill="none" stroke="#ff00ff" stroke-width="3.2"/>
<path d="M1451.06 351.29L1461.94 362.18M1451.06 362.18L1461.94 351.29" fill="none" stroke="#ff00ff" stroke-width="3.2"/>
<path d="M1466.11 337.71L1476.99 348.60M1466.11 348.60L1476.99 337.71" fill="none" stroke="#ff00ff" stroke-width="3.2"/>
<path d="M1481.16 324.18L1492.04 335.07M1481.16 335.07L1492.04 324.18" fill="none" stroke="#ff00ff" stroke-width="3.2"/>
<path d="M1496.21 309.46L1507.09 320.35M1496.21 320.35L1507.09 309.46" fill="none" stroke="#ff00ff" stroke-width="3.2"/>
<path d="M1511.26 289.97L1522.14 300.86M1511.26 300.86L1522.14 289.97" fill="none" stroke="#ff00ff" stroke-width="3.2"/>
<path d="M1526.31 275.58L1537.19 286.47M1526.31 286.47L1537.19 275.58" fill="none" stroke="#ff00ff" stroke-width="3.2"/>
<path d="M1541.36 269.55L1552.24 280.44M1541.36 280.44L1552.24 269.55" fill="none" stroke="#ff00ff" stroke-width="3.2"/>
<path d="M1556.41 266.07L1567.29 276.96M1556.41 276.96L1567.29 266.07" fill="none" stroke="#ff00ff" stroke-width="3.2"/>
<path d="M1571.46 261.92L1582.34 272.81M1571.46 272.81L1582.34 261.92" fill="none" stroke="#ff00ff" stroke-width="3.2"/>
<path d="M1586.51 267.68L1597.39 278.57M1586.51 278.57L1597.39 267.68" fill="none" stroke="#ff00ff" stroke-width="3.2"/>
<path d="M1601.56 266.74L1612.44 277.63M1601.56 277.63L1612.44 266.74" fill="none" stroke="#ff00ff" stroke-width="3.2"/>
<path d="M1616.61 265.00L1627.49 275.89M1616.61 275.89L1627.49 265.00" fill="none" stroke="#ff00ff" stroke-width="3.2"/>
<path d="M1631.66 262.06L1642.54 272.94M1631.66 272.94L1642.54 262.06" fill="none" stroke="#ff00ff" stroke-width="3.2"/>
<path d="M1646.71 258.71L1657.59 269.60M1646.71 269.60L1657.59 258.71" fill="none" stroke="#ff00ff" stroke-width="3.2"/>
<path d="M1661.76 254.42L1672.64 265.31M1661.76 265.31L1672.64 254.42" fill="none" stroke="#ff00ff" stroke-width="3.2"/>
<path d="M1676.81 249.33L1687.69 260.22M1676.81 260.22L1687.69 249.33" fill="none" stroke="#ff00ff" stroke-width="3.2"/>
<path d="M1691.86 237.82L1702.74 248.71M1691.86 248.71L1702.74 237.82" fill="none" stroke="#ff00ff" stroke-width="3.2"/>
<path d="M1706.91 221.89L1717.79 232.77M1706.91 232.77L1717.79 221.89" fill="none" stroke="#ff00ff" stroke-width="3.2"/>
<path d="M1721.96 203.67L1732.84 214.56M1721.96 214.56L1732.84 203.67" fill="none" stroke="#ff00ff" stroke-width="3.2"/>
<path d="M1737.01 187.74L1747.89 198.63M1737.01 198.63L1747.89 187.74" fill="none" stroke="#ff00ff" stroke-width="3.2"/>
<path d="M1752.06 173.95L1762.94 184.84M1752.06 184.84L1762.94 173.95" fill="none" stroke="#ff00ff" stroke-width="3.2"/>
<path d="M1767.11 160.83L1777.99 171.72M1767.11 171.72L1777.99 160.83" fill="none" stroke="#ff00ff" stroke-width="3.2"/>
<path d="M1782.16 148.78L1793.04 159.67M1782.16 159.67L1793.04 148.78" fill="none" stroke="#ff00ff" stroke-width="3.2"/>
<path d="M1797.21 137.26L1808.09 148.15M1797.21 148.15L1808.09 137.26" fill="none" stroke="#ff00ff" stroke-width="3.2"/>
<path d="M1812.26 124.41L1823.14 135.30M1812.26 135.30L1823.14 124.41" fill="none" stroke="#ff00ff" stroke-width="3.2"/>
<path d="M1827.31 112.49L1838.19 123.38M1827.31 123.38L1838.19 112.49" fill="none" stroke="#ff00ff" stroke-width="3.2"/>
<path d="M1842.36 102.04L1853.24 112.93M1842.36 112.93L1853.24 102.04" fill="none" stroke="#ff00ff" stroke-width="3.2"/>
<path d="M1857.41 90.53L1868.29 101.42M1857.41 101.42L1868.29 90.53" fill="none" stroke="#ff00ff" stroke-width="3.2"/>
<path d="M1872.46 78.88L1883.34 89.77M1872.46 89.77L1883.34 78.88" fill="none" stroke="#ff00ff" stroke-width="3.2"/>
<path d="M1887.51 66.70L1898.39 77.58M1887.51 77.58L1898.39 66.70" fill="none" stroke="#ff00ff" stroke-width="3.2"/>
<path d="M1902.56 55.72L1913.44 66.60M1902.56 66.60L1913.44 55.72" fill="none" stroke="#ff00ff" stroke-width="3.2"/>
<path d="M1917.61 45.00L1928.49 55.89M1917.61 55.89L1928.49 45.00" fill="none" stroke="#ff00ff" stroke-width="3.2"/>
<path d="M1932.66 34.29L1943.54 45.18M1932.66 45.18L1943.54 34.29" fill="none" stroke="#ff00ff" stroke-width="3.2"/>
<path d="M1947.71 22.78L1958.59 33.67M1947.71 33.67L1958.59 22.78" fill="none" stroke="#ff00ff" stroke-width="3.2"/>
<path d="M1962.76 12.06L1973.64 22.95M1962.76 22.95L1973.64 12.06" fill="none" stroke="#ff00ff" stroke-width="3.2"/>
<path d="M1396.30 275.40H1998.30" stroke="#000" stroke-width="3.5" stroke-dasharray="12.5 11.4" fill="none" clip-path="url(#clip2)"/>
<path d="M1426.40 383.42L1998.30 -108.36" stroke="#000" stroke-width="3.5" stroke-dasharray="12.5 3.2 5.6 3.2" stroke-dashoffset="2.1" fill="none" clip-path="url(#clip2)"/>
</g>
<rect x="1723.6" y="309.9" width="267.4" height="90.8" fill="#fff" stroke="#262626" stroke-width="1.5"/>
<path d="M1726.70 322.00h30.3" stroke="#0000ff" stroke-width="3.2" fill="none"/><circle cx="1741.70" cy="322.00" r="7.4" fill="none" stroke="#0000ff" stroke-width="3.2"/>
<g font-family='"Liberation Serif", serif'><text transform="translate(1758.37 326.70) scale(1.31 1)" font-size="17.6" fill="#000" font-style="italic">m</text><text transform="translate(1779.27 328.60) scale(1.42 1)" font-size="18.8" fill="#000">=</text><text transform="translate(1798.17 326.70) scale(1.06 1)" font-size="18.0" fill="#000" stroke="#000" stroke-width="0.3">0.1</text></g><path d="M1758.90 315.80h16" stroke="#000" stroke-width="1" fill="none"/>
<path d="M1874.70 322.00h30.3" stroke="#ff0000" stroke-width="3.2" fill="none"/><rect x="1883.70" y="316.00" width="12.0" height="12.0" fill="none" stroke="#ff0000" stroke-width="3.2"/>
<g font-family='"Liberation Serif", serif'><text transform="translate(1906.47 326.70) scale(1.31 1)" font-size="17.6" fill="#000" font-style="italic">m</text><text transform="translate(1927.37 328.60) scale(1.42 1)" font-size="18.8" fill="#000">=</text><text transform="translate(1946.27 326.70) scale(1.06 1)" font-size="18.0" fill="#000" stroke="#000" stroke-width="0.3">0.2</text></g><path d="M1907.00 315.80h16" stroke="#000" stroke-width="1" fill="none"/>
<path d="M1726.70 344.00h30.3" stroke="#000000" stroke-width="3.2" fill="none"/><path d="M1741.70 334.00L1750.36 349.00L1733.04 349.00Z" fill="none" stroke="#000000" stroke-width="3.2" stroke-linejoin="miter"/>
<g font-family='"Liberation Serif", serif'><text transform="translate(1758.37 348.70) scale(1.31 1)" font-size="17.6" fill="#000" font-style="italic">m</text><text transform="translate(1779.27 350.60) scale(1.42 1)" font-size="18.8" fill="#000">=</text><text transform="translate(1798.17 348.70) scale(1.06 1)" font-size="18.0" fill="#000" stroke="#000" stroke-width="0.3">0.3</text></g><path d="M1758.90 337.80h16" stroke="#000" stroke-width="1" fill="none"/>
<path d="M1874.70 344.00h30.3" stroke="#00ff00" stroke-width="3.2" fill="none"/><path d="M1882.10 344.00H1897.30M1889.70 336.40V351.60M1884.33 338.63L1895.07 349.37M1884.33 349.37L1895.07 338.63" fill="none" stroke="#00ff00" stroke-width="3.2"/>
<g font-family='"Liberation Serif", serif'><text transform="translate(1906.47 348.70) scale(1.31 1)" font-size="17.6" fill="#000" font-style="italic">m</text><text transform="translate(1927.37 350.60) scale(1.42 1)" font-size="18.8" fill="#000">=</text><text transform="translate(1946.27 348.70) scale(1.06 1)" font-size="18.0" fill="#000" stroke="#000" stroke-width="0.3">0.5</text></g><path d="M1907.00 337.80h16" stroke="#000" stroke-width="1" fill="none"/>
<path d="M1726.70 366.20h30.3" stroke="#ff00ff" stroke-width="3.2" fill="none"/><path d="M1736.26 360.76L1747.14 371.64M1736.26 371.64L1747.14 360.76" fill="none" stroke="#ff00ff" stroke-width="3.2"/>
<g font-family='"Liberation Serif", serif'><text transform="translate(1758.64 370.90) scale(1.02 1)" font-size="18.9" fill="#000" stroke="#000" stroke-width="0.3">PZH-VIV</text></g>
<path d="M1874.7 366.2h30" stroke="#000" stroke-width="3.4000000000000004" stroke-dasharray="12.5 11.4" fill="none"/>
<g font-family='"Liberation Serif", serif'><text transform="translate(1907.65 371.10) scale(1.22 1)" font-size="18.3" fill="#000" font-style="italic" stroke="#000" stroke-width="0.1">f</text><text x="1918.60" y="374.60" font-size="27.0" fill="#000">/</text><text transform="translate(1927.35 371.10) scale(1.22 1)" font-size="18.3" fill="#000" font-style="italic" stroke="#000" stroke-width="0.1">f</text><text transform="translate(1935.87 373.50) scale(1.05 1)" font-size="14.2" fill="#000" font-style="italic" stroke="#000" stroke-width="0.4">n,y</text><text transform="translate(1958.57 373.00) scale(1.42 1)" font-size="18.8" fill="#000">=</text><text x="1977.89" y="371.10" font-size="18.3" fill="#000" stroke="#000" stroke-width="0.4">1</text></g>
<path d="M1726.7 388.3h30" stroke="#000" stroke-width="3.5" stroke-dasharray="12.2 3.4 4.4 3.8" fill="none"/>
<g font-family='"Liberation Serif", serif'><text transform="translate(1759.55 393.20) scale(1.22 1)" font-size="18.3" fill="#000" font-style="italic" stroke="#000" stroke-width="0.1">f</text><text x="1770.50" y="396.70" font-size="27.0" fill="#000">/</text><text transform="translate(1779.25 393.20) scale(1.22 1)" font-size="18.3" fill="#000" font-style="italic" stroke="#000" stroke-width="0.1">f</text><text transform="translate(1787.77 395.60) scale(1.05 1)" font-size="14.2" fill="#000" font-style="italic" stroke="#000" stroke-width="0.4">n,y</text><text transform="translate(1810.47 395.10) scale(1.42 1)" font-size="18.8" fill="#000">=</text><text transform="translate(1831.33 393.20) scale(1.2 1)" font-size="19.4" fill="#000" font-style="italic" stroke="#000" stroke-width="0.4">S</text><text transform="translate(1843.06 393.20) scale(1.1 1)" font-size="19.4" fill="#000" font-style="italic" stroke="#000" stroke-width="0.4">t</text><text transform="translate(1848.11 393.20) scale(0.95 1)" font-size="19.4" fill="#000" font-style="italic" stroke="#000" stroke-width="0.4">U</text><text transform="translate(1861.21 395.50) scale(1.1 1)" font-size="13.2" fill="#000" font-style="italic" stroke="#000" stroke-width="0.4">r</text></g>
<g transform="translate(9.6 228.7) rotate(-90)" font-family='"Liberation Serif", serif'><text transform="translate(1.85 0.00) scale(1.03 1)" font-size="21.5" fill="#262626" font-style="italic" stroke="#262626" stroke-width="0.4">y</text><text transform="translate(11.35 3.60) scale(1.11 1)" font-size="15.2" fill="#262626" stroke="#262626" stroke-width="0.4">max</text></g>
<g transform="translate(677.7 240.5) rotate(-90)" font-family='"Liberation Serif", serif'><text x="-1.12" y="0.00" font-size="23.0" fill="#262626" font-style="italic" stroke="#262626" stroke-width="0.4">θ</text><text transform="translate(9.34 3.60) scale(1.13 1)" font-size="15.2" fill="#262626" stroke="#262626" stroke-width="0.4">max</text><text transform="translate(40.16 0.00) scale(1.05 1)" font-size="24.6" fill="#262626" stroke="#262626" stroke-width="0.1">(</text><text transform="translate(47.87 -2.20) scale(0.9 1)" font-size="24.0" fill="#262626" stroke="#262626" stroke-width="0.1">°</text><text transform="translate(55.67 0.00) scale(1.05 1)" font-size="24.6" fill="#262626" stroke="#262626" stroke-width="0.1">)</text></g>
<g transform="translate(1353.4 236.8) rotate(-90)" font-family='"Liberation Serif", serif'><text transform="translate(0.42 0.00) scale(1.22 1)" font-size="21.96" fill="#262626" font-style="italic" stroke="#262626" stroke-width="0.1">f</text><text x="13.56" y="4.20" font-size="32.4" fill="#262626">/</text><text transform="translate(24.06 0.00) scale(1.22 1)" font-size="21.96" fill="#262626" font-style="italic" stroke="#262626" stroke-width="0.1">f</text><text transform="translate(34.28 2.88) scale(1.05 1)" font-size="17.04" fill="#262626" font-style="italic" stroke="#262626" stroke-width="0.4">n,y</text></g>
<text x="323.2" y="519.6" text-anchor="middle" font-family='"Liberation Serif", serif' font-size="36" font-weight="bold" fill="#000">(a)</text>
<text x="994.9" y="519.6" text-anchor="middle" font-family='"Liberation Serif", serif' font-size="36" font-weight="bold" fill="#000">(b)</text>
<text x="1665.5" y="519.6" text-anchor="middle" font-family='"Liberation Serif", serif' font-size="36" font-weight="bold" fill="#000">(c)</text>
</svg>
</body>
</html>
